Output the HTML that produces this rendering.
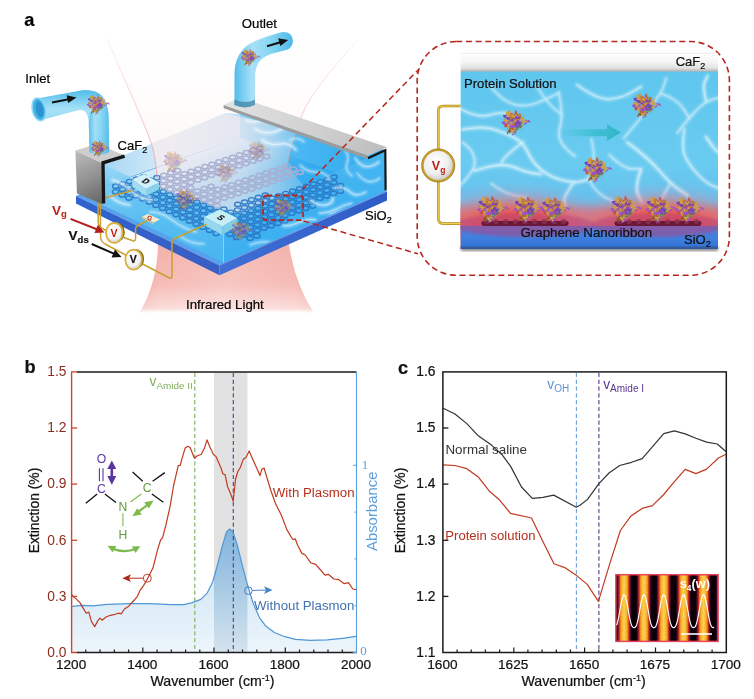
<!DOCTYPE html>
<html lang="en"><head><meta charset="utf-8"><title>Figure</title>
<style>html,body{margin:0;padding:0;background:#fff}svg{display:block}text:not([fill]),text[fill="#111"]{stroke:#111;stroke-width:0.22px}</style></head>
<body>
<svg width="754" height="699" viewBox="0 0 754 699">
<defs>

<clipPath id="bandClip"><rect x="214" y="372" width="33.4" height="281"/></clipPath>
<linearGradient id="bfill" x1="0" y1="528" x2="0" y2="652" gradientUnits="userSpaceOnUse"><stop offset="0" stop-color="#cfe5f5"/><stop offset="0.6" stop-color="#dcecf8"/><stop offset="1" stop-color="#ecf5fb"/></linearGradient>
<linearGradient id="bpeak" x1="0" y1="528" x2="0" y2="652" gradientUnits="userSpaceOnUse"><stop offset="0" stop-color="#7fb3dc"/><stop offset="0.5" stop-color="#a9cbe4"/><stop offset="1" stop-color="#d4e3ee"/></linearGradient>
<linearGradient id="stripes" x1="614.2" y1="0" x2="634.03" y2="0" gradientUnits="userSpaceOnUse" spreadMethod="repeat"><stop offset="0.00" stop-color="#080005"/><stop offset="0.12" stop-color="#0c0008"/><stop offset="0.19" stop-color="#5a0f3a"/><stop offset="0.25" stop-color="#c0281c"/><stop offset="0.31" stop-color="#ee7a18"/><stop offset="0.39" stop-color="#f6b52a"/><stop offset="0.50" stop-color="#f9d048"/><stop offset="0.61" stop-color="#f6b52a"/><stop offset="0.69" stop-color="#ee7a18"/><stop offset="0.75" stop-color="#c0281c"/><stop offset="0.81" stop-color="#5a0f3a"/><stop offset="0.88" stop-color="#0c0008"/><stop offset="1.00" stop-color="#080005"/></linearGradient>
<filter id="grain" x="0" y="0" width="100%" height="100%"><feTurbulence type="fractalNoise" baseFrequency="0.9" numOctaves="2" seed="3" result="n"/><feColorMatrix in="n" type="matrix" values="0 0 0 0 1  0 0 0 0 0.9  0 0 0 0 0.5  0 0 0 2.2 -1.1"/><feComposite in2="SourceGraphic" operator="in"/></filter>


<linearGradient id="irLow" x1="140" y1="0" x2="313" y2="0" gradientUnits="userSpaceOnUse"><stop offset="0" stop-color="#ef9a94"/><stop offset="0.1" stop-color="#f4b0aa"/><stop offset="0.5" stop-color="#f6bdb7"/><stop offset="0.9" stop-color="#f4b0aa"/><stop offset="1" stop-color="#ef9a94"/></linearGradient>
<linearGradient id="irLowFade" x1="0" y1="240" x2="0" y2="313" gradientUnits="userSpaceOnUse"><stop offset="0" stop-color="#fff" stop-opacity="0"/><stop offset="0.6" stop-color="#fff" stop-opacity="0.15"/><stop offset="0.93" stop-color="#fff" stop-opacity="0.55"/><stop offset="1" stop-color="#fff" stop-opacity="1"/></linearGradient>
<linearGradient id="irUp" x1="0" y1="38" x2="0" y2="175" gradientUnits="userSpaceOnUse"><stop offset="0" stop-color="#f7c0c0" stop-opacity="0"/><stop offset="0.25" stop-color="#f7c0c0" stop-opacity="0.03"/><stop offset="0.6" stop-color="#f7c0c0" stop-opacity="0.07"/><stop offset="1" stop-color="#f5b5b5" stop-opacity="0.16"/></linearGradient>
<linearGradient id="slabL" x1="76" y1="0" x2="220" y2="0" gradientUnits="userSpaceOnUse"><stop offset="0" stop-color="#2f62cc"/><stop offset="1" stop-color="#3a5ec4"/></linearGradient>
<linearGradient id="slabR" x1="220" y1="0" x2="387" y2="0" gradientUnits="userSpaceOnUse"><stop offset="0" stop-color="#4070d6"/><stop offset="1" stop-color="#2c5cc4"/></linearGradient>
<linearGradient id="faceL" x1="0" y1="0" x2="0" y2="1"><stop offset="0" stop-color="#9adaf8"/><stop offset="0.3" stop-color="#5cc0f2"/><stop offset="1" stop-color="#44b4f0"/></linearGradient>
<linearGradient id="faceR" x1="0" y1="0" x2="0" y2="1"><stop offset="0" stop-color="#4cbaf2"/><stop offset="1" stop-color="#36acf0"/></linearGradient>
<linearGradient id="topF" x1="100" y1="0" x2="386" y2="0" gradientUnits="userSpaceOnUse"><stop offset="0" stop-color="#86cef4"/><stop offset="0.45" stop-color="#54bbf1"/><stop offset="0.75" stop-color="#32abef"/><stop offset="1" stop-color="#2ca4ec"/></linearGradient>
<linearGradient id="edgeG" x1="0" y1="38" x2="0" y2="182" gradientUnits="userSpaceOnUse"><stop offset="0" stop-color="#eea0a0" stop-opacity="0.12"/><stop offset="0.45" stop-color="#eea0a0" stop-opacity="0.4"/><stop offset="1" stop-color="#eea0a0" stop-opacity="0.8"/></linearGradient>
<linearGradient id="tint" x1="140" y1="0" x2="300" y2="0" gradientUnits="userSpaceOnUse"><stop offset="0" stop-color="#fdecee" stop-opacity="0.6"/><stop offset="0.6" stop-color="#fdecee" stop-opacity="0.62"/><stop offset="0.85" stop-color="#fdecee" stop-opacity="0.42"/><stop offset="1" stop-color="#fdecee" stop-opacity="0.22"/></linearGradient>
<linearGradient id="wallBL" x1="101" y1="0" x2="240" y2="0" gradientUnits="userSpaceOnUse"><stop offset="0" stop-color="#a4d6f4"/><stop offset="0.25" stop-color="#bfe1f6"/><stop offset="0.5" stop-color="#d9edf9"/><stop offset="1" stop-color="#b9def5"/></linearGradient>
<linearGradient id="wallBR" x1="240" y1="0" x2="385" y2="0" gradientUnits="userSpaceOnUse"><stop offset="0" stop-color="#8fd3f5"/><stop offset="0.35" stop-color="#4cb9f2"/><stop offset="1" stop-color="#2ca7ee"/></linearGradient>
<linearGradient id="topPale" x1="160" y1="163" x2="176" y2="207" gradientUnits="userSpaceOnUse"><stop offset="0" stop-color="#e6f4fb" stop-opacity="0.92"/><stop offset="0.45" stop-color="#d2ebf8" stop-opacity="0.7"/><stop offset="1" stop-color="#c6e6f7" stop-opacity="0"/></linearGradient>
<linearGradient id="topPaleMask" x1="150" y1="0" x2="330" y2="0" gradientUnits="userSpaceOnUse"><stop offset="0" stop-color="#fff"/><stop offset="0.55" stop-color="#ccc"/><stop offset="1" stop-color="#000"/></linearGradient>
<mask id="paleM" maskUnits="userSpaceOnUse" x="60" y="80" width="340" height="200"><rect x="60" y="80" width="340" height="200" fill="url(#topPaleMask)"/></mask>
<linearGradient id="blockL" x1="76" y1="150" x2="102" y2="204" gradientUnits="userSpaceOnUse"><stop offset="0" stop-color="#bdbdbd"/><stop offset="0.5" stop-color="#949494"/><stop offset="1" stop-color="#646464"/></linearGradient>
<linearGradient id="barTop" x1="225" y1="105" x2="385" y2="150" gradientUnits="userSpaceOnUse"><stop offset="0" stop-color="#e2e2e2"/><stop offset="0.6" stop-color="#cfcfcf"/><stop offset="1" stop-color="#bdbdbd"/></linearGradient>
<linearGradient id="pipeV" x1="0" y1="0" x2="1" y2="0"><stop offset="0" stop-color="#52bdea"/><stop offset="0.3" stop-color="#a8e1f7"/><stop offset="0.6" stop-color="#88d6f3"/><stop offset="1" stop-color="#4fb9e8"/></linearGradient>
<linearGradient id="pipeH" x1="0" y1="0" x2="0" y2="1"><stop offset="0" stop-color="#52bdea"/><stop offset="0.3" stop-color="#a8e1f7"/><stop offset="0.6" stop-color="#88d6f3"/><stop offset="1" stop-color="#4fb9e8"/></linearGradient>
<radialGradient id="meter" cx="0.45" cy="0.4" r="0.6"><stop offset="0" stop-color="#ffffff"/><stop offset="0.7" stop-color="#f2f2f2"/><stop offset="1" stop-color="#cfcfcf"/></radialGradient>
<pattern id="lat" width="7" height="6" patternUnits="userSpaceOnUse" patternTransform="matrix(0.88 0.42 0.95 -0.33 0 0)">
<circle cx="0" cy="0" r="2.4" fill="none" stroke="#2c66ae" stroke-width="1.5"/><circle cx="7" cy="0" r="2.4" fill="none" stroke="#2c66ae" stroke-width="1.5"/><circle cx="0" cy="6" r="2.4" fill="none" stroke="#2c66ae" stroke-width="1.5"/><circle cx="7" cy="6" r="2.4" fill="none" stroke="#2c66ae" stroke-width="1.5"/><circle cx="3.5" cy="3" r="2.4" fill="none" stroke="#2c66ae" stroke-width="1.5"/>
</pattern>
<pattern id="latP" width="7" height="6" patternUnits="userSpaceOnUse" patternTransform="matrix(0.88 0.42 0.95 -0.33 0 0)">
<circle cx="0" cy="0" r="2.4" fill="none" stroke="#8e8aa8" stroke-width="1.5"/><circle cx="7" cy="0" r="2.4" fill="none" stroke="#8e8aa8" stroke-width="1.5"/><circle cx="0" cy="6" r="2.4" fill="none" stroke="#8e8aa8" stroke-width="1.5"/><circle cx="7" cy="6" r="2.4" fill="none" stroke="#8e8aa8" stroke-width="1.5"/><circle cx="3.5" cy="3" r="2.4" fill="none" stroke="#8e8aa8" stroke-width="1.5"/>
</pattern>
<clipPath id="boxClip"><polygon points="101,163 125.5,153.7 225.2,113.3 386,149 386,190 224,262 102,204.5"/></clipPath>
<clipPath id="beamClip"><path d="M107 38 C120 70 136 105 146.6 130.8 S155 165 158 182 L166 191 L252 219 L304 186 L287 166 C290 150 298 121 306.5 105.5 S335 65 358 40 Z"/></clipPath>
<filter id="b1" x="-20%" y="-20%" width="140%" height="140%"><feGaussianBlur stdDeviation="0.7"/></filter>
<filter id="b2" x="-20%" y="-20%" width="140%" height="140%"><feGaussianBlur stdDeviation="1.6"/></filter>
<filter id="b4" x="-30%" y="-30%" width="160%" height="160%"><feGaussianBlur stdDeviation="4"/></filter>


<linearGradient id="caf" x1="0" y1="52.7" x2="0" y2="72" gradientUnits="userSpaceOnUse"><stop offset="0" stop-color="#d0d0d0"/><stop offset="0.06" stop-color="#ffffff"/><stop offset="0.45" stop-color="#f6f6f6"/><stop offset="0.8" stop-color="#e2e2e2"/><stop offset="0.93" stop-color="#bdbdbd"/><stop offset="1" stop-color="#8fb5c4"/></linearGradient>
<linearGradient id="water" x1="0" y1="72" x2="0" y2="226" gradientUnits="userSpaceOnUse"><stop offset="0" stop-color="#5fc6ee"/><stop offset="0.6" stop-color="#6acbf0"/><stop offset="1" stop-color="#62b8ea"/></linearGradient>
<linearGradient id="sio" x1="0" y1="226" x2="0" y2="249" gradientUnits="userSpaceOnUse"><stop offset="0" stop-color="#5a78d4"/><stop offset="0.5" stop-color="#3f80de"/><stop offset="1" stop-color="#2f70d6"/></linearGradient>
<radialGradient id="glow" cx="0.5" cy="0.5" r="0.5"><stop offset="0" stop-color="#f04a40" stop-opacity="1"/><stop offset="0.3" stop-color="#f0544a" stop-opacity="0.95"/><stop offset="0.48" stop-color="#f0645c" stop-opacity="0.78"/><stop offset="0.64" stop-color="#ee7478" stop-opacity="0.5"/><stop offset="0.82" stop-color="#e888a0" stop-opacity="0.16"/><stop offset="1" stop-color="#e090b8" stop-opacity="0"/></radialGradient>
<linearGradient id="arrowT" x1="560" y1="0" x2="621" y2="0" gradientUnits="userSpaceOnUse"><stop offset="0" stop-color="#38c0d0" stop-opacity="0"/><stop offset="0.5" stop-color="#36bccc" stop-opacity="0.7"/><stop offset="1" stop-color="#30b6c6" stop-opacity="1"/></linearGradient>
<radialGradient id="vg" cx="0.42" cy="0.38" r="0.65"><stop offset="0" stop-color="#ffffff"/><stop offset="0.6" stop-color="#efefef"/><stop offset="1" stop-color="#c4c4c4"/></radialGradient>
<linearGradient id="goldw" x1="0" y1="0" x2="1" y2="0"><stop offset="0" stop-color="#b8901e"/><stop offset="0.5" stop-color="#f2d860"/><stop offset="1" stop-color="#b8901e"/></linearGradient>
<clipPath id="insClip"><rect x="460.4" y="52.7" width="257.6" height="196.3"/></clipPath>

<symbol id="prot" viewBox="0 0 24 24" overflow="visible">
<ellipse cx="12" cy="12.5" rx="9.5" ry="8.6" fill="#b88a5a" opacity="0.34"/>
<path d="M5.4 14.3q-0.2 0.1 0.5 -1.6q0.1 0.8 1.5 -2.1q-1.3 -2.6 1.6 1.0" fill="none" stroke="#b04a90" stroke-width="0.8" stroke-linecap="round"/>
<path d="M7.2 9.5q1.0 0.7 -1.8 -2.5q0.2 -2.8 -1.6 -1.3q-3.0 -0.2 -0.3 1.8" fill="none" stroke="#7a3fb0" stroke-width="1.2" stroke-linecap="round"/>
<path d="M12.5 17.0q1.0 -0.3 -1.2 2.6q3.2 2.2 1.1 -1.0q-1.7 -1.4 -2.2 1.4" fill="none" stroke="#d58a35" stroke-width="1.0" stroke-linecap="round"/>
<path d="M15.9 15.3q2.9 2.2 -2.6 -1.5q2.6 -0.2 2.5 -0.5q-2.7 0.8 1.4 -1.2" fill="none" stroke="#d58a35" stroke-width="0.8" stroke-linecap="round"/>
<path d="M11.6 13.5q1.7 -2.4 -1.3 -2.1q-2.8 1.9 -1.7 0.3q-0.3 -2.0 1.2 -1.9" fill="none" stroke="#7a3fb0" stroke-width="1.2" stroke-linecap="round"/>
<path d="M7.6 16.0q-3.2 2.3 2.5 0.5q3.2 -3.1 -1.6 2.6q0.7 0.5 -2.4 -1.8" fill="none" stroke="#cfa048" stroke-width="1.0" stroke-linecap="round"/>
<path d="M11.6 19.8q2.1 -0.7 -2.2 -1.5q0.9 -3.1 -0.7 0.6q-2.4 0.6 1.7 -1.9" fill="none" stroke="#b87532" stroke-width="1.0" stroke-linecap="round"/>
<path d="M13.5 15.5q2.0 -1.6 -1.6 1.2q2.8 -1.9 2.3 2.0q0.7 -0.5 -2.1 -2.4" fill="none" stroke="#cfa048" stroke-width="1.0" stroke-linecap="round"/>
<path d="M12.6 19.5q-0.5 2.6 -0.0 0.1q2.7 3.1 -1.9 -0.1q1.0 0.7 -2.2 -1.5" fill="none" stroke="#cfa048" stroke-width="0.8" stroke-linecap="round"/>
<path d="M12.0 10.3q-0.3 -2.8 -1.7 -0.7q0.5 -2.4 -0.7 2.0q3.1 1.0 1.0 0.4" fill="none" stroke="#7a3fb0" stroke-width="0.8" stroke-linecap="round"/>
<path d="M4.4 8.2q2.6 1.3 2.4 -2.5q0.9 -0.1 1.2 -0.9q3.2 -2.7 0.2 1.2" fill="none" stroke="#7a3fb0" stroke-width="1.2" stroke-linecap="round"/>
<path d="M11.7 9.5q-0.9 1.2 2.1 1.9q-0.5 1.9 1.9 0.4q0.8 -0.8 0.4 0.6" fill="none" stroke="#b87532" stroke-width="0.8" stroke-linecap="round"/>
<path d="M14.7 14.0q2.4 1.5 -0.6 1.2q0.5 -0.4 1.8 -2.2q1.6 -3.0 0.5 -0.1" fill="none" stroke="#cfa048" stroke-width="0.8" stroke-linecap="round"/>
<path d="M15.0 11.8q0.7 2.7 -1.3 -2.5q-1.3 1.1 -1.5 -1.7q2.6 1.0 -0.3 2.0" fill="none" stroke="#b04a90" stroke-width="1.0" stroke-linecap="round"/>
<path d="M8.2 14.9q-0.4 2.0 2.2 2.0q-0.7 0.5 -1.0 -1.9q-0.0 2.2 1.8 1.1" fill="none" stroke="#3f9a55" stroke-width="1.0" stroke-linecap="round"/>
<path d="M13.4 10.0q-1.4 -1.8 -0.4 0.7q-0.0 -1.2 1.8 2.5q-0.3 -2.7 -2.4 1.9" fill="none" stroke="#7a3fb0" stroke-width="0.8" stroke-linecap="round"/>
<path d="M9.9 8.5q-1.2 1.9 -2.5 -1.9q-0.3 -3.0 1.7 -1.4q-2.3 -2.9 0.7 -0.3" fill="none" stroke="#b87532" stroke-width="1.2" stroke-linecap="round"/>
<path d="M4.7 11.0q2.9 1.2 -1.6 -0.1q-2.1 -3.1 -0.1 1.1q-2.1 -1.5 -0.8 1.0" fill="none" stroke="#b87532" stroke-width="1.2" stroke-linecap="round"/>
<path d="M2.7 12.5q-0.7 1.9 2.1 -2.1q2.8 1.4 -1.9 -0.2q0.8 2.6 -0.6 0.4" fill="none" stroke="#cfa048" stroke-width="1.2" stroke-linecap="round"/>
<path d="M14.6 4.7q-1.1 3.1 -2.1 1.9q1.9 2.7 -2.0 -1.3q-0.7 -2.6 -1.0 2.5" fill="none" stroke="#7a3fb0" stroke-width="1.0" stroke-linecap="round"/>
<path d="M11.4 19.6q-1.0 -2.7 -0.3 0.3q1.7 -0.1 -2.5 1.6q-2.8 1.9 -1.7 -0.9" fill="none" stroke="#d58a35" stroke-width="0.8" stroke-linecap="round"/>
<path d="M2.9 14.0q0.1 1.1 -0.3 2.0q0.5 1.2 1.3 -0.3q0.4 2.1 0.3 -1.7" fill="none" stroke="#c8503a" stroke-width="1.2" stroke-linecap="round"/>
<path d="M15.9 7.3q1.1 2.9 1.9 0.6q-1.3 -2.3 0.2 -1.2q-0.0 -0.6 -2.0 -2.6" fill="none" stroke="#b87532" stroke-width="1.0" stroke-linecap="round"/>
<path d="M21.0 13.9q2.7 0.3 2.5 -2.0q-2.6 -2.1 2.2 -0.2q2.7 1.9 -0.5 -1.3" fill="none" stroke="#9a52c8" stroke-width="1.0" stroke-linecap="round"/>
<path d="M16.3 16.4q2.8 2.7 0.1 -2.0q-0.5 -3.0 -1.2 1.1q3.1 -3.0 -1.8 -2.5" fill="none" stroke="#8a5a2a" stroke-width="1.0" stroke-linecap="round"/>
<path d="M9.6 17.0q-0.0 -0.0 0.4 1.8q0.8 1.4 1.0 2.0q-3.1 0.9 1.7 0.6" fill="none" stroke="#3f9a55" stroke-width="1.2" stroke-linecap="round"/>
<path d="M14.1 18.9q-1.8 -1.8 0.2 0.5q-2.3 2.7 0.7 -0.8q-2.0 0.7 2.0 -1.6" fill="none" stroke="#3f9a55" stroke-width="0.8" stroke-linecap="round"/>
<path d="M14.6 10.5q-2.4 -2.6 -0.6 -0.3q2.8 0.3 1.1 -1.6q0.8 1.9 -2.1 0.4" fill="none" stroke="#cfa048" stroke-width="1.0" stroke-linecap="round"/>
<path d="M19.8 8.1q1.3 0.9 -0.8 2.6q2.1 1.9 -0.1 -2.5q1.7 0.7 2.1 -0.1" fill="none" stroke="#d58a35" stroke-width="0.8" stroke-linecap="round"/>
<path d="M13.7 16.0q-2.2 -1.4 0.9 0.4q-2.3 1.2 -2.2 -2.1q-0.7 -0.5 -0.8 -1.5" fill="none" stroke="#8a5a2a" stroke-width="1.0" stroke-linecap="round"/>
<path d="M19.8 13.1q-1.9 -0.6 -0.7 -0.7q2.7 0.7 -2.1 1.5q-1.1 -2.7 1.8 2.0" fill="none" stroke="#3a60b0" stroke-width="1.2" stroke-linecap="round"/>
<path d="M18.5 10.2q0.0 3.1 1.6 -1.3q2.6 1.6 1.4 1.6q-0.6 2.5 2.0 1.0" fill="none" stroke="#cfa048" stroke-width="1.0" stroke-linecap="round"/>
<path d="M12.6 7.2q-2.0 1.9 -1.0 -2.1q2.5 3.1 2.1 -2.3q-1.5 3.0 -1.0 -1.5" fill="none" stroke="#c8503a" stroke-width="1.0" stroke-linecap="round"/>
<path d="M5.8 9.9q0.1 -0.0 -1.5 -2.0q-0.7 0.5 -2.0 -2.0q-1.7 -0.4 0.0 1.4" fill="none" stroke="#7a3fb0" stroke-width="1.2" stroke-linecap="round"/>
<path d="M9.9 14.3q-1.4 -1.0 0.2 -0.4q0.1 2.2 -2.1 -0.3q0.9 0.3 0.9 2.4" fill="none" stroke="#cfa048" stroke-width="1.0" stroke-linecap="round"/>
<path d="M15.4 11.1q3.0 2.3 0.2 0.5q-0.5 -0.0 -1.1 -0.5q-1.2 0.2 -0.1 -1.2" fill="none" stroke="#7a3fb0" stroke-width="1.0" stroke-linecap="round"/>
<path d="M7.8 6.3q-3.1 -1.6 -2.4 -1.8q1.6 -0.7 2.1 1.3q-2.9 3.1 2.3 -2.2" fill="none" stroke="#d58a35" stroke-width="0.8" stroke-linecap="round"/>
<path d="M6.2 15.0q-1.6 0.1 2.3 1.2q-0.2 3.1 1.6 0.5q-2.5 0.8 -0.2 -1.5" fill="none" stroke="#b04a90" stroke-width="0.8" stroke-linecap="round"/>
<path d="M9.7 15.1q-0.4 1.1 -0.2 -1.2q0.5 -0.5 1.4 0.2q3.2 2.9 1.2 -1.4" fill="none" stroke="#b87532" stroke-width="0.8" stroke-linecap="round"/>
<path d="M6.8 12.4q0.8 -0.9 -1.2 1.0q0.4 0.6 0.7 1.3q-2.0 -1.6 2.5 2.2" fill="none" stroke="#9a52c8" stroke-width="1.2" stroke-linecap="round"/>
<path d="M14.2 13.0q-1.5 -3.0 -2.4 -1.4q-1.4 1.6 2.1 -1.8q-1.7 3.1 -0.1 -0.8" fill="none" stroke="#cfa048" stroke-width="1.0" stroke-linecap="round"/>
<path d="M7.5 18.5q2.4 1.9 -0.3 1.7q2.2 1.7 -0.3 1.3q-0.7 -2.2 -1.8 1.7" fill="none" stroke="#8a5a2a" stroke-width="1.2" stroke-linecap="round"/>
<path d="M8.9 18.0q2.1 -2.0 0.8 0.4q-0.2 -1.1 0.2 -0.4q0.4 2.0 -0.2 1.7" fill="none" stroke="#c8503a" stroke-width="0.8" stroke-linecap="round"/>
<path d="M15.8 14.3q0.7 1.2 -0.0 1.4q-1.1 2.4 -1.5 0.8q-1.1 2.6 -0.9 -0.3" fill="none" stroke="#3f9a55" stroke-width="1.2" stroke-linecap="round"/>
<path d="M19.9 8.5q-0.4 1.9 -1.0 -0.9q-0.6 2.8 2.1 -1.3q-0.9 -0.9 -0.7 -0.5" fill="none" stroke="#cfa048" stroke-width="1.0" stroke-linecap="round"/>
<path d="M14.3 5.6q1.9 0.3 1.7 0.3q-2.1 1.7 2.0 -1.1q-3.1 0.1 0.2 0.4" fill="none" stroke="#b87532" stroke-width="0.8" stroke-linecap="round"/>
<path d="M7.1 6.4q0.5 -1.2 0.2 -0.9q-1.4 -2.5 -1.0 -2.5q1.0 -2.6 1.6 -0.4" fill="none" stroke="#d58a35" stroke-width="1.2" stroke-linecap="round"/>
<path d="M13.5 19.7q-1.0 -0.3 -0.8 1.6q-1.1 -2.3 -0.1 1.6q-2.7 0.8 -2.4 1.3" fill="none" stroke="#9a52c8" stroke-width="1.2" stroke-linecap="round"/>
<path d="M11.7 12.9q2.1 2.5 2.4 0.7q0.2 1.3 1.6 -0.4q-0.5 -2.3 1.3 2.6" fill="none" stroke="#7a3fb0" stroke-width="1.0" stroke-linecap="round"/>
<path d="M9.9 8.2q-0.5 -1.3 2.4 -2.3q-1.2 -2.5 0.8 1.4q-2.1 -2.8 -0.2 0.4" fill="none" stroke="#7a3fb0" stroke-width="0.8" stroke-linecap="round"/>
<path d="M10.4 15.9q-1.8 -1.7 1.1 0.5q-1.8 -2.0 -1.1 -1.7q1.6 -1.2 0.3 1.6" fill="none" stroke="#b87532" stroke-width="1.0" stroke-linecap="round"/>
<path d="M15.9 7.9q2.7 -1.0 0.2 2.4q-0.1 -1.8 -2.3 2.3q1.9 -0.7 0.1 0.1" fill="none" stroke="#7a3fb0" stroke-width="1.0" stroke-linecap="round"/>
<path d="M12.5 10.5q2.5 2.4 2.1 -0.3q-1.6 -0.5 1.9 -0.4q1.7 -2.3 2.1 1.6" fill="none" stroke="#cfa048" stroke-width="0.8" stroke-linecap="round"/>
<path d="M6.0 6.2q0.1 -2.9 0.4 -1.7q-1.9 2.7 -1.8 -1.9q-0.9 0.7 0.1 2.0" fill="none" stroke="#cfa048" stroke-width="1.2" stroke-linecap="round"/>
<path d="M3.1 14.1q0.3 0.0 -2.5 -1.6q-2.0 1.2 1.5 -0.3q-3.0 -0.6 -0.0 2.3" fill="none" stroke="#9a52c8" stroke-width="1.0" stroke-linecap="round"/>
<path d="M9.6 17.4q-1.2 -0.2 1.1 -0.7q1.2 -2.5 -0.5 -0.2q3.0 2.1 0.8 -2.5" fill="none" stroke="#9a52c8" stroke-width="1.0" stroke-linecap="round"/>
<path d="M10.5 6.9q0.4 -0.3 -2.5 2.6q1.9 -1.9 0.6 -1.1q-0.8 0.3 -1.0 -0.8" fill="none" stroke="#b87532" stroke-width="1.0" stroke-linecap="round"/>
<path d="M9.4 11.7q-1.9 1.5 -0.9 2.3q0.4 1.4 -0.9 1.7q-2.6 -2.3 -2.1 0.9" fill="none" stroke="#cfa048" stroke-width="1.2" stroke-linecap="round"/>
<path d="M13.8 15.8q2.2 0.6 -2.1 -1.4q-2.2 -2.4 -0.5 -2.2q2.7 -0.5 0.1 0.8" fill="none" stroke="#d58a35" stroke-width="0.8" stroke-linecap="round"/>
<path d="M14.5 7.8q2.7 0.8 1.2 0.6q-1.2 1.8 -1.3 2.5q0.2 -1.5 -1.6 -1.0" fill="none" stroke="#b87532" stroke-width="1.0" stroke-linecap="round"/>
<path d="M16.5 15.7q-1.1 -1.3 -2.1 1.1q-1.6 0.2 -1.0 -1.4q0.7 0.1 0.4 -1.6" fill="none" stroke="#9a52c8" stroke-width="1.2" stroke-linecap="round"/>
<path d="M19.8 12.4q0.4 -3.0 0.8 1.4q-2.3 -0.1 -0.4 -0.9q-2.6 2.4 -1.2 2.0" fill="none" stroke="#cfa048" stroke-width="1.0" stroke-linecap="round"/>
<path d="M15.4 12.0q0.3 0.4 0.3 -1.2q2.6 3.1 1.7 0.5q-2.4 2.1 -1.1 2.1" fill="none" stroke="#9a52c8" stroke-width="0.8" stroke-linecap="round"/>
<path d="M12.3 7.5q-2.0 0.3 -2.2 -2.4q-2.0 3.1 2.3 0.8q-1.2 1.1 1.2 -0.6" fill="none" stroke="#cfa048" stroke-width="1.2" stroke-linecap="round"/>
<path d="M6.8 6.9q-1.9 -0.2 -1.9 -0.6q0.4 -2.1 0.1 -1.2q0.4 -1.1 0.7 -2.4" fill="none" stroke="#cfa048" stroke-width="1.2" stroke-linecap="round"/>
<path d="M13.4 7.3q0.6 -0.2 -0.5 0.6q1.2 1.7 1.3 -0.1q3.2 2.2 1.8 -0.5" fill="none" stroke="#7a3fb0" stroke-width="1.0" stroke-linecap="round"/>
<path d="M14.3 14.4q-1.1 0.1 -0.4 -2.5q2.6 -1.3 0.6 -0.3q-0.8 -1.1 1.5 2.0" fill="none" stroke="#9a52c8" stroke-width="0.8" stroke-linecap="round"/>
<path d="M12.3 20.2q0.0 -0.7 -2.3 1.0q0.2 -1.7 -1.0 -0.5q-1.7 -2.8 2.1 2.4" fill="none" stroke="#cfa048" stroke-width="1.2" stroke-linecap="round"/>
<path d="M7.3 17.0q2.0 -1.8 1.3 0.3q2.6 -2.6 1.5 -2.0q0.2 2.9 -2.6 -1.3" fill="none" stroke="#9a52c8" stroke-width="1.0" stroke-linecap="round"/>
<path d="M15.8 13.0q2.5 2.0 -0.5 -0.7q0.5 -2.9 -2.4 2.1q-1.2 -0.0 2.3 2.5" fill="none" stroke="#7a3fb0" stroke-width="1.0" stroke-linecap="round"/>
</symbol>
</defs>
<rect width="754" height="699" fill="#ffffff"/>
<g id="panela" font-family="Liberation Sans, Arial, sans-serif">
<path d="M107 38 C120 70 136 105 146.6 130.8 S155 165 158 182 L287 166 C290 150 298 121 306.5 105.5 S335 65 358 40 Z" fill="url(#irUp)"/>
<path d="M158 230 Q160 280 139 313 L314 313 Q292 280 287 230 Z" fill="url(#irLow)"/>
<path d="M130 230 H320 V314 H130 Z" fill="url(#irLowFade)"/>
<polygon points="76,196 240,121 387,191.5 219.5,265.6" fill="#56a2ec"/>
<polygon points="76,196 219.5,265.6 219.5,275.3 76,203.6" fill="url(#slabL)"/>
<polygon points="219.5,265.6 387,191.5 387,200.5 219.5,275.3" fill="url(#slabR)"/>
<polygon points="82,195 240,137.7 385,190 224,262" fill="url(#topF)"/>
<polygon points="240,112 385,150 385,190 240,137.7" fill="url(#wallBR)"/>
<polygon points="82,195 240,137.7 385,190 224,262" fill="url(#topPale)" mask="url(#paleM)"/>
<polygon points="101,163.5 125.5,154.5 225.2,113.3 240,114 240,137.7 153,168.5 101,187.5" fill="url(#wallBL)"/>
<g clip-path="url(#beamClip)"><polygon points="101,163 125.5,153.7 225.2,113.3 386,149 386,190 224,262 82,195" fill="url(#tint)"/></g>
<polygon points="101,163 223.4,221 223.4,262.5 102,204.5" fill="url(#faceL)" opacity="0.82"/>
<polygon points="223.4,221 385,150 385.6,190.5 223.4,262.5" fill="url(#faceR)" opacity="0.8"/>
<line x1="223.4" y1="221" x2="223.4" y2="262.5" stroke="#bfe6fa" stroke-width="0.8" opacity="0.8"/>
<g fill="none" stroke="#2874c4" stroke-width="1.4" opacity="0.88">
<ellipse cx="115.7" cy="186.2" rx="3.1" ry="2.15"/>
<ellipse cx="122.6" cy="183.9" rx="3.1" ry="2.15"/>
<ellipse cx="129.5" cy="181.5" rx="3.1" ry="2.15"/>
<ellipse cx="136.4" cy="179.2" rx="3.1" ry="2.15"/>
<ellipse cx="143.3" cy="176.8" rx="3.1" ry="2.15"/>
<ellipse cx="115.5" cy="191.8" rx="3.1" ry="2.15"/>
<ellipse cx="122.4" cy="189.4" rx="3.1" ry="2.15"/>
<ellipse cx="129.3" cy="187.1" rx="3.1" ry="2.15"/>
<ellipse cx="136.2" cy="184.7" rx="3.1" ry="2.15"/>
<ellipse cx="143.1" cy="182.3" rx="3.1" ry="2.15"/>
<ellipse cx="150.0" cy="180.0" rx="3.1" ry="2.15"/>
<ellipse cx="156.9" cy="177.7" rx="3.1" ry="2.15"/>
<ellipse cx="122.2" cy="194.9" rx="3.1" ry="2.15"/>
<ellipse cx="129.1" cy="192.6" rx="3.1" ry="2.15"/>
<ellipse cx="136.0" cy="190.2" rx="3.1" ry="2.15"/>
<ellipse cx="142.9" cy="187.8" rx="3.1" ry="2.15"/>
<ellipse cx="149.8" cy="185.5" rx="3.1" ry="2.15"/>
<ellipse cx="156.7" cy="183.2" rx="3.1" ry="2.15"/>
<ellipse cx="128.9" cy="198.1" rx="3.1" ry="2.15"/>
<ellipse cx="135.8" cy="195.7" rx="3.1" ry="2.15"/>
<ellipse cx="142.7" cy="193.4" rx="3.1" ry="2.15"/>
<ellipse cx="149.6" cy="191.0" rx="3.1" ry="2.15"/>
<ellipse cx="156.5" cy="188.7" rx="3.1" ry="2.15"/>
<ellipse cx="142.5" cy="198.8" rx="3.1" ry="2.15"/>
<ellipse cx="149.4" cy="196.5" rx="3.1" ry="2.15"/>
<ellipse cx="156.3" cy="194.1" rx="3.1" ry="2.15"/>
<ellipse cx="163.2" cy="191.8" rx="3.1" ry="2.15"/>
<ellipse cx="149.2" cy="202.0" rx="3.1" ry="2.15"/>
<ellipse cx="156.1" cy="199.7" rx="3.1" ry="2.15"/>
<ellipse cx="163.0" cy="197.3" rx="3.1" ry="2.15"/>
<ellipse cx="169.9" cy="194.9" rx="3.1" ry="2.15"/>
<ellipse cx="155.9" cy="205.2" rx="3.1" ry="2.15"/>
<ellipse cx="162.8" cy="202.8" rx="3.1" ry="2.15"/>
<ellipse cx="169.7" cy="200.4" rx="3.1" ry="2.15"/>
<ellipse cx="176.6" cy="198.1" rx="3.1" ry="2.15"/>
<ellipse cx="183.5" cy="195.8" rx="3.1" ry="2.15"/>
<ellipse cx="162.6" cy="208.3" rx="3.1" ry="2.15"/>
<ellipse cx="169.5" cy="206.0" rx="3.1" ry="2.15"/>
<ellipse cx="176.4" cy="203.6" rx="3.1" ry="2.15"/>
<ellipse cx="183.3" cy="201.2" rx="3.1" ry="2.15"/>
<ellipse cx="190.2" cy="198.9" rx="3.1" ry="2.15"/>
<ellipse cx="169.3" cy="211.5" rx="3.1" ry="2.15"/>
<ellipse cx="176.2" cy="209.1" rx="3.1" ry="2.15"/>
<ellipse cx="183.1" cy="206.8" rx="3.1" ry="2.15"/>
<ellipse cx="190.0" cy="204.4" rx="3.1" ry="2.15"/>
<ellipse cx="196.9" cy="202.1" rx="3.1" ry="2.15"/>
<ellipse cx="176.0" cy="214.6" rx="3.1" ry="2.15"/>
<ellipse cx="182.9" cy="212.2" rx="3.1" ry="2.15"/>
<ellipse cx="189.8" cy="209.9" rx="3.1" ry="2.15"/>
<ellipse cx="196.7" cy="207.5" rx="3.1" ry="2.15"/>
<ellipse cx="203.6" cy="205.2" rx="3.1" ry="2.15"/>
<ellipse cx="182.7" cy="217.8" rx="3.1" ry="2.15"/>
<ellipse cx="189.6" cy="215.4" rx="3.1" ry="2.15"/>
<ellipse cx="196.5" cy="213.0" rx="3.1" ry="2.15"/>
<ellipse cx="203.4" cy="210.7" rx="3.1" ry="2.15"/>
<ellipse cx="210.3" cy="208.3" rx="3.1" ry="2.15"/>
<ellipse cx="189.4" cy="220.9" rx="3.1" ry="2.15"/>
<ellipse cx="196.3" cy="218.6" rx="3.1" ry="2.15"/>
<ellipse cx="203.2" cy="216.2" rx="3.1" ry="2.15"/>
<ellipse cx="210.1" cy="213.8" rx="3.1" ry="2.15"/>
<ellipse cx="217.0" cy="211.5" rx="3.1" ry="2.15"/>
<ellipse cx="223.9" cy="209.2" rx="3.1" ry="2.15"/>
<ellipse cx="237.7" cy="204.4" rx="3.1" ry="2.15"/>
<ellipse cx="244.6" cy="202.1" rx="3.1" ry="2.15"/>
<ellipse cx="251.5" cy="199.8" rx="3.1" ry="2.15"/>
<ellipse cx="258.4" cy="197.4" rx="3.1" ry="2.15"/>
<ellipse cx="265.3" cy="195.1" rx="3.1" ry="2.15"/>
<ellipse cx="196.1" cy="224.1" rx="3.1" ry="2.15"/>
<ellipse cx="203.0" cy="221.7" rx="3.1" ry="2.15"/>
<ellipse cx="209.9" cy="219.3" rx="3.1" ry="2.15"/>
<ellipse cx="216.8" cy="217.0" rx="3.1" ry="2.15"/>
<ellipse cx="223.7" cy="214.7" rx="3.1" ry="2.15"/>
<ellipse cx="230.6" cy="212.3" rx="3.1" ry="2.15"/>
<ellipse cx="237.5" cy="210.0" rx="3.1" ry="2.15"/>
<ellipse cx="244.4" cy="207.6" rx="3.1" ry="2.15"/>
<ellipse cx="251.3" cy="205.2" rx="3.1" ry="2.15"/>
<ellipse cx="258.2" cy="202.9" rx="3.1" ry="2.15"/>
<ellipse cx="265.1" cy="200.6" rx="3.1" ry="2.15"/>
<ellipse cx="272.0" cy="198.2" rx="3.1" ry="2.15"/>
<ellipse cx="278.9" cy="195.8" rx="3.1" ry="2.15"/>
<ellipse cx="285.8" cy="193.5" rx="3.1" ry="2.15"/>
<ellipse cx="292.7" cy="191.2" rx="3.1" ry="2.15"/>
<ellipse cx="299.6" cy="188.8" rx="3.1" ry="2.15"/>
<ellipse cx="306.5" cy="186.4" rx="3.1" ry="2.15"/>
<ellipse cx="313.4" cy="184.1" rx="3.1" ry="2.15"/>
<ellipse cx="320.3" cy="181.8" rx="3.1" ry="2.15"/>
<ellipse cx="327.2" cy="179.4" rx="3.1" ry="2.15"/>
<ellipse cx="334.1" cy="177.1" rx="3.1" ry="2.15"/>
<ellipse cx="202.8" cy="227.2" rx="3.1" ry="2.15"/>
<ellipse cx="209.7" cy="224.9" rx="3.1" ry="2.15"/>
<ellipse cx="216.6" cy="222.5" rx="3.1" ry="2.15"/>
<ellipse cx="223.5" cy="220.2" rx="3.1" ry="2.15"/>
<ellipse cx="230.4" cy="217.8" rx="3.1" ry="2.15"/>
<ellipse cx="237.3" cy="215.5" rx="3.1" ry="2.15"/>
<ellipse cx="244.2" cy="213.1" rx="3.1" ry="2.15"/>
<ellipse cx="251.1" cy="210.8" rx="3.1" ry="2.15"/>
<ellipse cx="258.0" cy="208.4" rx="3.1" ry="2.15"/>
<ellipse cx="264.9" cy="206.1" rx="3.1" ry="2.15"/>
<ellipse cx="271.8" cy="203.7" rx="3.1" ry="2.15"/>
<ellipse cx="278.7" cy="201.4" rx="3.1" ry="2.15"/>
<ellipse cx="285.6" cy="199.0" rx="3.1" ry="2.15"/>
<ellipse cx="292.5" cy="196.7" rx="3.1" ry="2.15"/>
<ellipse cx="299.4" cy="194.3" rx="3.1" ry="2.15"/>
<ellipse cx="306.3" cy="192.0" rx="3.1" ry="2.15"/>
<ellipse cx="313.2" cy="189.6" rx="3.1" ry="2.15"/>
<ellipse cx="320.1" cy="187.2" rx="3.1" ry="2.15"/>
<ellipse cx="327.0" cy="184.9" rx="3.1" ry="2.15"/>
<ellipse cx="333.9" cy="182.6" rx="3.1" ry="2.15"/>
<ellipse cx="209.5" cy="230.3" rx="3.1" ry="2.15"/>
<ellipse cx="216.4" cy="228.0" rx="3.1" ry="2.15"/>
<ellipse cx="223.3" cy="225.6" rx="3.1" ry="2.15"/>
<ellipse cx="230.2" cy="223.3" rx="3.1" ry="2.15"/>
<ellipse cx="237.1" cy="220.9" rx="3.1" ry="2.15"/>
<ellipse cx="244.0" cy="218.6" rx="3.1" ry="2.15"/>
<ellipse cx="250.9" cy="216.2" rx="3.1" ry="2.15"/>
<ellipse cx="257.8" cy="213.9" rx="3.1" ry="2.15"/>
<ellipse cx="264.7" cy="211.5" rx="3.1" ry="2.15"/>
<ellipse cx="271.6" cy="209.2" rx="3.1" ry="2.15"/>
<ellipse cx="278.5" cy="206.8" rx="3.1" ry="2.15"/>
<ellipse cx="285.4" cy="204.5" rx="3.1" ry="2.15"/>
<ellipse cx="292.3" cy="202.1" rx="3.1" ry="2.15"/>
<ellipse cx="299.2" cy="199.8" rx="3.1" ry="2.15"/>
<ellipse cx="306.1" cy="197.4" rx="3.1" ry="2.15"/>
<ellipse cx="313.0" cy="195.1" rx="3.1" ry="2.15"/>
<ellipse cx="319.9" cy="192.8" rx="3.1" ry="2.15"/>
<ellipse cx="326.8" cy="190.4" rx="3.1" ry="2.15"/>
<ellipse cx="333.7" cy="188.0" rx="3.1" ry="2.15"/>
<ellipse cx="340.6" cy="185.7" rx="3.1" ry="2.15"/>
<ellipse cx="216.2" cy="233.5" rx="3.1" ry="2.15"/>
<ellipse cx="223.1" cy="231.2" rx="3.1" ry="2.15"/>
<ellipse cx="230.0" cy="228.8" rx="3.1" ry="2.15"/>
<ellipse cx="236.9" cy="226.4" rx="3.1" ry="2.15"/>
<ellipse cx="243.8" cy="224.1" rx="3.1" ry="2.15"/>
<ellipse cx="250.7" cy="221.8" rx="3.1" ry="2.15"/>
<ellipse cx="257.6" cy="219.4" rx="3.1" ry="2.15"/>
<ellipse cx="264.5" cy="217.0" rx="3.1" ry="2.15"/>
<ellipse cx="271.4" cy="214.7" rx="3.1" ry="2.15"/>
<ellipse cx="278.3" cy="212.3" rx="3.1" ry="2.15"/>
<ellipse cx="285.2" cy="210.0" rx="3.1" ry="2.15"/>
<ellipse cx="292.1" cy="207.7" rx="3.1" ry="2.15"/>
<ellipse cx="299.0" cy="205.3" rx="3.1" ry="2.15"/>
<ellipse cx="305.9" cy="202.9" rx="3.1" ry="2.15"/>
<ellipse cx="312.8" cy="200.6" rx="3.1" ry="2.15"/>
<ellipse cx="319.7" cy="198.2" rx="3.1" ry="2.15"/>
<ellipse cx="326.6" cy="195.9" rx="3.1" ry="2.15"/>
<ellipse cx="333.5" cy="193.5" rx="3.1" ry="2.15"/>
<ellipse cx="340.4" cy="191.2" rx="3.1" ry="2.15"/>
<ellipse cx="229.8" cy="234.3" rx="3.1" ry="2.15"/>
<ellipse cx="236.7" cy="231.9" rx="3.1" ry="2.15"/>
<ellipse cx="243.6" cy="229.6" rx="3.1" ry="2.15"/>
<ellipse cx="250.5" cy="227.2" rx="3.1" ry="2.15"/>
<ellipse cx="257.4" cy="224.9" rx="3.1" ry="2.15"/>
<ellipse cx="264.3" cy="222.6" rx="3.1" ry="2.15"/>
<ellipse cx="271.2" cy="220.2" rx="3.1" ry="2.15"/>
<ellipse cx="278.1" cy="217.8" rx="3.1" ry="2.15"/>
<ellipse cx="285.0" cy="215.5" rx="3.1" ry="2.15"/>
<ellipse cx="291.9" cy="213.2" rx="3.1" ry="2.15"/>
<ellipse cx="298.8" cy="210.8" rx="3.1" ry="2.15"/>
<ellipse cx="305.7" cy="208.4" rx="3.1" ry="2.15"/>
<ellipse cx="312.6" cy="206.1" rx="3.1" ry="2.15"/>
<ellipse cx="236.5" cy="237.5" rx="3.1" ry="2.15"/>
<ellipse cx="243.4" cy="235.1" rx="3.1" ry="2.15"/>
<ellipse cx="250.3" cy="232.8" rx="3.1" ry="2.15"/>
<ellipse cx="257.2" cy="230.4" rx="3.1" ry="2.15"/>
<ellipse cx="264.1" cy="228.1" rx="3.1" ry="2.15"/>
<ellipse cx="271.0" cy="225.7" rx="3.1" ry="2.15"/>
<ellipse cx="277.9" cy="223.3" rx="3.1" ry="2.15"/>
<ellipse cx="284.8" cy="221.0" rx="3.1" ry="2.15"/>
<ellipse cx="250.1" cy="238.2" rx="3.1" ry="2.15"/>
<ellipse cx="257.0" cy="235.9" rx="3.1" ry="2.15"/>
</g>
<g fill="none" stroke="#a9aed0" stroke-width="1.5" opacity="0.95"><ellipse cx="163.8" cy="175.3" rx="3.1" ry="2.15"/><ellipse cx="170.7" cy="172.9" rx="3.1" ry="2.15"/><ellipse cx="177.6" cy="170.6" rx="3.1" ry="2.15"/><ellipse cx="163.6" cy="180.8" rx="3.1" ry="2.15"/><ellipse cx="170.5" cy="178.5" rx="3.1" ry="2.15"/><ellipse cx="177.4" cy="176.1" rx="3.1" ry="2.15"/><ellipse cx="184.3" cy="173.8" rx="3.1" ry="2.15"/><ellipse cx="191.2" cy="171.4" rx="3.1" ry="2.15"/><ellipse cx="198.1" cy="169.1" rx="3.1" ry="2.15"/><ellipse cx="205.0" cy="166.7" rx="3.1" ry="2.15"/><ellipse cx="211.9" cy="164.3" rx="3.1" ry="2.15"/><ellipse cx="218.8" cy="162.0" rx="3.1" ry="2.15"/><ellipse cx="225.7" cy="159.7" rx="3.1" ry="2.15"/><ellipse cx="232.6" cy="157.3" rx="3.1" ry="2.15"/><ellipse cx="239.5" cy="154.9" rx="3.1" ry="2.15"/><ellipse cx="246.4" cy="152.6" rx="3.1" ry="2.15"/><ellipse cx="253.3" cy="150.2" rx="3.1" ry="2.15"/><ellipse cx="260.2" cy="147.9" rx="3.1" ry="2.15"/><ellipse cx="163.4" cy="186.3" rx="3.1" ry="2.15"/><ellipse cx="170.3" cy="184.0" rx="3.1" ry="2.15"/><ellipse cx="177.2" cy="181.6" rx="3.1" ry="2.15"/><ellipse cx="184.1" cy="179.2" rx="3.1" ry="2.15"/><ellipse cx="191.0" cy="176.9" rx="3.1" ry="2.15"/><ellipse cx="197.9" cy="174.6" rx="3.1" ry="2.15"/><ellipse cx="204.8" cy="172.2" rx="3.1" ry="2.15"/><ellipse cx="211.7" cy="169.9" rx="3.1" ry="2.15"/><ellipse cx="218.6" cy="167.5" rx="3.1" ry="2.15"/><ellipse cx="225.5" cy="165.2" rx="3.1" ry="2.15"/><ellipse cx="232.4" cy="162.8" rx="3.1" ry="2.15"/><ellipse cx="239.3" cy="160.5" rx="3.1" ry="2.15"/><ellipse cx="246.2" cy="158.1" rx="3.1" ry="2.15"/><ellipse cx="253.1" cy="155.8" rx="3.1" ry="2.15"/><ellipse cx="260.0" cy="153.4" rx="3.1" ry="2.15"/><ellipse cx="170.1" cy="189.4" rx="3.1" ry="2.15"/><ellipse cx="177.0" cy="187.1" rx="3.1" ry="2.15"/><ellipse cx="183.9" cy="184.8" rx="3.1" ry="2.15"/><ellipse cx="190.8" cy="182.4" rx="3.1" ry="2.15"/><ellipse cx="197.7" cy="180.0" rx="3.1" ry="2.15"/><ellipse cx="204.6" cy="177.7" rx="3.1" ry="2.15"/><ellipse cx="211.5" cy="175.3" rx="3.1" ry="2.15"/><ellipse cx="218.4" cy="173.0" rx="3.1" ry="2.15"/><ellipse cx="225.3" cy="170.6" rx="3.1" ry="2.15"/><ellipse cx="232.2" cy="168.3" rx="3.1" ry="2.15"/><ellipse cx="239.1" cy="165.9" rx="3.1" ry="2.15"/><ellipse cx="246.0" cy="163.6" rx="3.1" ry="2.15"/><ellipse cx="252.9" cy="161.2" rx="3.1" ry="2.15"/><ellipse cx="259.8" cy="158.9" rx="3.1" ry="2.15"/><ellipse cx="266.7" cy="156.5" rx="3.1" ry="2.15"/><ellipse cx="176.8" cy="192.6" rx="3.1" ry="2.15"/><ellipse cx="183.7" cy="190.2" rx="3.1" ry="2.15"/><ellipse cx="190.6" cy="187.9" rx="3.1" ry="2.15"/><ellipse cx="190.4" cy="193.4" rx="3.1" ry="2.15"/><ellipse cx="197.3" cy="191.1" rx="3.1" ry="2.15"/><ellipse cx="204.2" cy="188.7" rx="3.1" ry="2.15"/><ellipse cx="211.1" cy="186.3" rx="3.1" ry="2.15"/><ellipse cx="197.1" cy="196.6" rx="3.1" ry="2.15"/><ellipse cx="204.0" cy="194.2" rx="3.1" ry="2.15"/><ellipse cx="210.9" cy="191.8" rx="3.1" ry="2.15"/><ellipse cx="217.8" cy="189.5" rx="3.1" ry="2.15"/><ellipse cx="224.7" cy="187.2" rx="3.1" ry="2.15"/><ellipse cx="231.6" cy="184.8" rx="3.1" ry="2.15"/><ellipse cx="238.5" cy="182.5" rx="3.1" ry="2.15"/><ellipse cx="245.4" cy="180.1" rx="3.1" ry="2.15"/><ellipse cx="252.3" cy="177.8" rx="3.1" ry="2.15"/><ellipse cx="259.2" cy="175.4" rx="3.1" ry="2.15"/><ellipse cx="266.1" cy="173.1" rx="3.1" ry="2.15"/><ellipse cx="273.0" cy="170.7" rx="3.1" ry="2.15"/><ellipse cx="279.9" cy="168.3" rx="3.1" ry="2.15"/><ellipse cx="286.8" cy="166.0" rx="3.1" ry="2.15"/><ellipse cx="203.8" cy="199.7" rx="3.1" ry="2.15"/><ellipse cx="210.7" cy="197.4" rx="3.1" ry="2.15"/><ellipse cx="217.6" cy="195.0" rx="3.1" ry="2.15"/><ellipse cx="224.5" cy="192.7" rx="3.1" ry="2.15"/><ellipse cx="231.4" cy="190.3" rx="3.1" ry="2.15"/><ellipse cx="238.3" cy="188.0" rx="3.1" ry="2.15"/><ellipse cx="245.2" cy="185.6" rx="3.1" ry="2.15"/><ellipse cx="252.1" cy="183.2" rx="3.1" ry="2.15"/><ellipse cx="259.0" cy="180.9" rx="3.1" ry="2.15"/><ellipse cx="265.9" cy="178.6" rx="3.1" ry="2.15"/><ellipse cx="272.8" cy="176.2" rx="3.1" ry="2.15"/><ellipse cx="279.7" cy="173.9" rx="3.1" ry="2.15"/><ellipse cx="286.6" cy="171.5" rx="3.1" ry="2.15"/><ellipse cx="293.5" cy="169.2" rx="3.1" ry="2.15"/><ellipse cx="210.5" cy="202.8" rx="3.1" ry="2.15"/><ellipse cx="217.4" cy="200.5" rx="3.1" ry="2.15"/><ellipse cx="224.3" cy="198.1" rx="3.1" ry="2.15"/><ellipse cx="231.2" cy="195.8" rx="3.1" ry="2.15"/><ellipse cx="238.1" cy="193.4" rx="3.1" ry="2.15"/><ellipse cx="245.0" cy="191.1" rx="3.1" ry="2.15"/><ellipse cx="251.9" cy="188.8" rx="3.1" ry="2.15"/><ellipse cx="258.8" cy="186.4" rx="3.1" ry="2.15"/><ellipse cx="265.7" cy="184.0" rx="3.1" ry="2.15"/><ellipse cx="272.6" cy="181.7" rx="3.1" ry="2.15"/><ellipse cx="279.5" cy="179.3" rx="3.1" ry="2.15"/><ellipse cx="286.4" cy="177.0" rx="3.1" ry="2.15"/><ellipse cx="293.3" cy="174.6" rx="3.1" ry="2.15"/><ellipse cx="300.2" cy="172.3" rx="3.1" ry="2.15"/><ellipse cx="217.2" cy="206.0" rx="3.1" ry="2.15"/></g>
<path d="M107 38 C120 70 136 105 146.6 130.8 S155 165 158 182" fill="none" stroke="url(#edgeG)" stroke-width="1.1"/>
<path d="M358 40 C335 65 315 90 306.5 105.5 S290 150 287 166" fill="none" stroke="url(#edgeG)" stroke-width="1.1"/>
<g clip-path="url(#boxClip)">
<g fill="none" stroke="#fff" stroke-linecap="round" filter="url(#b2)" opacity="0.6">
<path d="M255 129 Q264 134 272 132.5 T286 126" stroke-width="3.0"/>
<path d="M300 131 Q310 127 321 132.7 T332 143 Q338 142 343 138.5" stroke-width="2.2"/>
<path d="M355 158 Q360 166 366 166.7 T379 162" stroke-width="2.6"/>
<path d="M357 173 Q362 180 368 181.5 T380 178" stroke-width="2.0"/>
<path d="M310.6 200.6 Q318 206 325.5 205 T333 198" stroke-width="3.0"/>
<path d="M319 213.4 Q328 213 336 209 T352 203" stroke-width="2.2"/>
<path d="M283 226 Q292 226 300 222 T316 220" stroke-width="2.6"/>
<path d="M345 150 Q350 156 347 163 T352 176" stroke-width="2.0"/>
<path d="M262 140 Q270 146 280 144 T296 150" stroke-width="3.0"/>
<path d="M300 165 Q306 172 316 172 T330 180" stroke-width="2.2"/>
<path d="M335 188 Q344 186 350 192 T366 192" stroke-width="2.6"/>
<path d="M250 245 Q262 240 272 243 T296 232" stroke-width="2.0"/>
<path d="M112 180 Q122 182 130 190 T152 200" stroke-width="3.0"/>
<path d="M150 212 Q162 212 172 220 T196 232" stroke-width="2.2"/>
<path d="M110 196 Q118 204 130 205" stroke-width="2.6"/>
<path d="M180 236 Q190 244 204 244" stroke-width="2.0"/>
<path d="M268 250 Q280 243 290 244" stroke-width="3.0"/>
<path d="M330 215 Q340 210 348 212 T366 204" stroke-width="2.2"/>
<path d="M246 120 Q254 124 262 120" stroke-width="2.6"/>
<path d="M290 140 Q298 136 304 142" stroke-width="2.0"/>
</g>
<g fill="none" stroke="#fff" stroke-linecap="round" filter="url(#b1)" opacity="0.45">
<path d="M255 129 Q264 134 272 132.5 T286 126" stroke-width="1.0"/>
<path d="M300 131 Q310 127 321 132.7 T332 143 Q338 142 343 138.5" stroke-width="0.8"/>
<path d="M355 158 Q360 166 366 166.7 T379 162" stroke-width="0.9"/>
<path d="M357 173 Q362 180 368 181.5 T380 178" stroke-width="0.7"/>
<path d="M310.6 200.6 Q318 206 325.5 205 T333 198" stroke-width="1.0"/>
<path d="M319 213.4 Q328 213 336 209 T352 203" stroke-width="0.8"/>
<path d="M283 226 Q292 226 300 222 T316 220" stroke-width="0.9"/>
<path d="M345 150 Q350 156 347 163 T352 176" stroke-width="0.7"/>
<path d="M262 140 Q270 146 280 144 T296 150" stroke-width="1.0"/>
<path d="M300 165 Q306 172 316 172 T330 180" stroke-width="0.8"/>
<path d="M335 188 Q344 186 350 192 T366 192" stroke-width="0.9"/>
<path d="M250 245 Q262 240 272 243 T296 232" stroke-width="0.7"/>
<path d="M112 180 Q122 182 130 190 T152 200" stroke-width="1.0"/>
<path d="M150 212 Q162 212 172 220 T196 232" stroke-width="0.8"/>
<path d="M110 196 Q118 204 130 205" stroke-width="0.9"/>
<path d="M180 236 Q190 244 204 244" stroke-width="0.7"/>
<path d="M268 250 Q280 243 290 244" stroke-width="1.0"/>
<path d="M330 215 Q340 210 348 212 T366 204" stroke-width="0.8"/>
<path d="M246 120 Q254 124 262 120" stroke-width="0.9"/>
<path d="M290 140 Q298 136 304 142" stroke-width="0.7"/>
</g></g>
<polygon points="132.2,179.8 144,174 159,182.6 146,189" fill="#d2f0f8"/>
<polygon points="132.2,179.8 146,189 146,196 132.2,186.5" fill="#a2dcf0"/><polygon points="146,189 159,182.6 159,189.5 146,196" fill="#8ad2ec"/>
<text transform="translate(145.5,181.8) rotate(28) skewX(-25)" font-size="8" font-weight="bold" text-anchor="middle" dominant-baseline="middle" fill="#111">D</text>
<polygon points="204,217 220,209.4 237.3,218 222.3,226.6" fill="#c6eef7"/>
<polygon points="204,217 222.3,226.6 222.3,235 204,225" fill="#96d8ee"/><polygon points="222.3,226.6 237.3,218 237.3,226 222.3,235" fill="#80cde9"/>
<text transform="translate(220.5,218) rotate(28) skewX(-25)" font-size="8" font-weight="bold" text-anchor="middle" dominant-baseline="middle" fill="#111">S</text>
<polygon points="142,216.5 148,214 160,219.5 154,222.5" fill="#f2ecd0"/><polygon points="142,216.5 154,222.5 154,224.5 142,218.5" fill="#cfc49a"/>
<text transform="translate(149.5,218.6) rotate(25)" font-size="6.5" font-weight="bold" text-anchor="middle" dominant-baseline="middle" fill="#c0201a">G</text>
<g fill="none" stroke="#c8a030" stroke-width="1.5" stroke-linejoin="round" stroke-linecap="round">
<path d="M132 190.5 L98 199.8 L98.2 222 Q98.6 227 104 229.5 L108 231.5"/>
<path d="M100.3 203 L100.6 237.5 Q101 242 106 244.5 L126.5 255.5"/>
<path d="M122.5 237 L133 240.8 Q135.6 241.5 135.6 238 L135.6 228.5 Q135.6 226.5 138 225.5 L146 221"/>
<path d="M141.5 263.5 L169.5 278 Q172 279 172 276 L172 242 Q172 240 174.5 238.5 L206 224.5"/>
</g>
<ellipse cx="114.3" cy="232.9" rx="8.3" ry="10" fill="#8a6a1a" transform="translate(2.2,-0.6)"/>
<ellipse cx="114.3" cy="232.9" rx="8.3" ry="10" fill="url(#meter)" stroke="#d8b040" stroke-width="1.7"/>
<text x="114.0" y="236.7" font-size="10.5" font-weight="bold" text-anchor="middle" fill="#c0201a">V</text>
<ellipse cx="133.6" cy="259.6" rx="8.3" ry="10" fill="#8a6a1a" transform="translate(2.2,-0.6)"/>
<ellipse cx="133.6" cy="259.6" rx="8.3" ry="10" fill="url(#meter)" stroke="#d8b040" stroke-width="1.7"/>
<text x="133.3" y="263.4" font-size="10.5" font-weight="bold" text-anchor="middle" fill="#111">V</text>
<line x1="70.5" y1="218.9" x2="98" y2="229.8" stroke="#b5201c" stroke-width="2"/><polygon points="104.5,232.4 94.5,233 97.8,224.8" fill="#b5201c"/>
<line x1="91.7" y1="244" x2="115" y2="254.2" stroke="#111" stroke-width="2"/><polygon points="121.5,257 111.5,257.5 115,249.5" fill="#111"/>
<text x="52" y="214.9" font-size="13.5" font-weight="bold" fill="#c0201a">V<tspan font-size="9.5" dy="2.5">g</tspan></text>
<text x="68.6" y="240" font-size="13.5" font-weight="bold" fill="#111">V<tspan font-size="9.5" dy="2.5">ds</tspan></text>
<polygon points="75.4,150.5 102,163 102.6,204.5 76.9,193.5" fill="url(#blockL)"/>
<polygon points="75.4,150.5 97,144 125,155.5 102,163" fill="#cdcdcd"/>
<path d="M124.6 156.2 L103 162.8 L103.6 203.6" fill="none" stroke="#161616" stroke-width="3.3" stroke-linejoin="miter"/>
<polygon points="223.5,105.1 240,97.5 387.2,147.2 367.9,155.8" fill="url(#barTop)"/>
<polygon points="223.5,105.1 367.9,155.8 367.9,159.3 223.8,108.3" fill="#9c9c9c"/>
<path d="M368 158.3 L385.3 150.3 L385.6 190.5" fill="none" stroke="#161616" stroke-width="2.2"/>
<path d="M37 98.6 L82 90.2 Q108 88 108.6 116 L109.2 152 Q100 157 89.6 152 L88.8 124 Q88.5 108.5 78 110.3 L41.5 120 Z" fill="url(#pipeH)"/>
<path d="M88.8 124 L89.6 152 Q100 157 109.2 152 L108.6 116 Q108 100 96 96 Q90 110 88.8 124Z" fill="url(#pipeV)" opacity="0.85"/>
<ellipse cx="38.9" cy="109.4" rx="6.6" ry="11.5" transform="rotate(-12 38.9 109.4)" fill="#3fb0e6" stroke="#8fd8f4" stroke-width="1.6"/>
<ellipse cx="39.6" cy="109.4" rx="3.6" ry="8" transform="rotate(-12 39.6 109.4)" fill="#2a93d0"/>
<line x1="52" y1="102.5" x2="70" y2="99" stroke="#111" stroke-width="2.2"/><polygon points="76.5,97.6 68.2,103 66.6,95.2" fill="#111"/>
<path d="M234.5 105 L234.5 73 Q235 55 247.7 45 Q258 38.5 282.3 32 Q292.5 31.5 293 41 Q292.5 47 288 49.5 L270.8 54 Q256 59 255.2 74 L255 105 Q245 109.5 234.5 105Z" fill="url(#pipeV)"/>
<path d="M234.5 99.5 Q245 104.5 255 99.5 L255 105 Q245 109.8 234.5 105Z" fill="#4a8aa8" opacity="0.8"/>
<line x1="267" y1="46.2" x2="282" y2="41.8" stroke="#111" stroke-width="2.2"/><polygon points="288.2,40 280.3,46 278.2,38.2" fill="#111"/>
<use href="#prot" x="87.0" y="94.0" width="20" height="20" opacity="1.00"/>
<use href="#prot" x="91.0" y="140.0" width="16" height="16" opacity="1.00"/>
<use href="#prot" x="241.0" y="48.5" width="17" height="17" opacity="1.00"/>
<use href="#prot" x="163.5" y="150.5" width="21" height="21" opacity="0.40"/>
<use href="#prot" x="248.5" y="140.5" width="19" height="19" opacity="0.38"/>
<use href="#prot" x="216.5" y="163.5" width="19" height="19" opacity="0.38"/>
<use href="#prot" x="175.5" y="188.5" width="21" height="21" opacity="0.60"/>
<use href="#prot" x="231.0" y="220.0" width="20" height="20" opacity="0.62"/>
<use href="#prot" x="273.5" y="197.5" width="19" height="19" opacity="0.70"/>
<rect x="263" y="195.5" width="40" height="24.7" rx="3.5" fill="none" stroke="#b5261e" stroke-width="1.8" stroke-dasharray="5.5,3"/>
<path d="M302.5 189.5 L418.6 69.4" fill="none" stroke="#b5261e" stroke-width="1.5" stroke-dasharray="6,3.6"/>
<path d="M303.5 221 L418 253.8" fill="none" stroke="#b5261e" stroke-width="1.5" stroke-dasharray="6,3.6"/>
<text x="25.3" y="83.2" font-size="13.1">Inlet</text>
<text x="241.8" y="27.9" font-size="13.2">Outlet</text>
<text x="117.6" y="149.7" font-size="13">CaF<tspan font-size="9" dy="3">2</tspan></text>
<text x="365" y="220.2" font-size="13">SiO<tspan font-size="9" dy="3">2</tspan></text>
<text x="186" y="308.8" font-size="13.2">Infrared Light</text>
<text x="24.2" y="26" font-size="18.2" font-weight="bold">a</text>
</g>
<g id="inset" font-family="Liberation Sans, Arial, sans-serif">
<rect x="417.2" y="41.5" width="312.2" height="233.8" rx="39" fill="none" stroke="#b5261e" stroke-width="1.6" stroke-dasharray="6,3.7"/>
<rect x="461" y="246" width="257" height="5" fill="#555" filter="url(#b2)" opacity="0.7"/>
<g clip-path="url(#insClip)">
<rect x="460.4" y="52.7" width="257.6" height="19.6" fill="url(#caf)"/>
<rect x="460.4" y="71.8" width="257.6" height="154.5" fill="url(#water)"/>
<g fill="none" stroke="#fff" stroke-linecap="round" stroke-linejoin="round" filter="url(#b2)" opacity="0.62">
<path d="M462.2 129.5 Q483.7 125.9 494.4 129.5 Q505.2 133.1 514.1 137.6 Q523.1 142.1 527.6 151.9 Q532.1 161.8 540.1 168.9 Q548.2 176.1 560.7 179.7 Q573.3 183.3 580.4 181.5 L587.6 179.7" stroke-width="3.2"/>
<path d="M558.9 91.9 Q563.2 115.2 560.2 125.9 Q557.2 136.7 561.6 143.0 Q566.1 149.2 570.6 152.8 L575.1 156.4" stroke-width="2.4"/>
<path d="M576.9 84.7 Q598.4 100.8 610.9 99.1 Q623.5 97.3 632.4 91.9 L641.4 86.5" stroke-width="2.8"/>
<path d="M623.5 138.5 Q634.2 125.9 641.4 117.0 Q648.5 108.0 654.8 100.8 Q661.1 93.7 663.8 85.6 L666.5 77.5" stroke-width="2.2"/>
<path d="M627.0 142.1 Q648.5 158.2 659.3 170.7 Q670.1 183.3 679.0 189.6 L688.0 195.8" stroke-width="3.2"/>
<path d="M677.2 133.1 Q688.0 118.8 696.9 109.8 Q705.9 100.8 714.9 98.7 L723.8 96.5" stroke-width="2.4"/>
<path d="M684.4 129.5 Q681.5 147.4 684.7 155.5 Q688.0 163.6 696.9 173.4 Q705.9 183.3 713.1 186.0 L720.2 188.7" stroke-width="2.8"/>
<path d="M591.2 138.5 Q595.5 156.4 592.5 162.7 Q589.4 168.9 588.9 174.3 Q588.3 179.7 593.4 186.9 Q598.4 194.0 606.4 198.0 L614.5 201.9" stroke-width="2.2"/>
<path d="M474.7 170.7 Q501.6 161.8 514.1 167.2 Q526.7 172.5 533.9 173.4 L541.0 174.3" stroke-width="3.2"/>
<path d="M460.4 185.1 Q476.5 168.9 474.7 160.0 Q472.9 151.0 467.5 146.5 L462.2 142.1" stroke-width="2.4"/>
<path d="M455.0 106.2 Q476.5 118.8 489.1 115.2 Q501.6 111.6 507.0 113.4 L512.3 115.2" stroke-width="2.8"/>
<path d="M535.6 84.7 Q547.5 103.7 555.0 109.4 L562.5 115.2" stroke-width="2.2"/>
<path d="M641.4 168.9 Q634.2 186.9 638.2 194.9 L642.1 203.0" stroke-width="3.2"/>
<path d="M489.1 84.7 Q501.6 100.8 514.1 104.4 Q526.7 108.0 542.8 100.5 L558.9 93.0" stroke-width="2.4"/>
<path d="M523.1 142.1 Q508.8 152.8 505.2 157.3 L501.6 161.8" stroke-width="2.8"/>
<path d="M670.1 183.3 Q662.9 197.6 659.3 202.1 L655.7 206.6" stroke-width="2.2"/>
<path d="M705.9 100.8 Q702.3 86.5 705.0 81.1 L707.7 75.8" stroke-width="3.2"/>
<path d="M661.1 93.7 Q677.2 99.1 683.5 108.9 L689.8 118.8" stroke-width="2.4"/>
<path d="M573.3 183.3 Q562.5 197.6 564.3 203.0 L566.1 208.4" stroke-width="2.8"/>
<path d="M490.8 183.3 Q505.2 194.0 515.9 195.8 L526.7 197.6" stroke-width="2.2"/>
<path d="M705.9 136.7 Q714.9 151.0 719.3 152.8 L723.8 154.6" stroke-width="3.2"/>
<path d="M609.1 154.6 Q623.5 168.9 632.4 168.9 L641.4 168.9" stroke-width="2.4"/>
</g>
<g fill="none" stroke="#fff" stroke-linecap="round" stroke-linejoin="round" filter="url(#b1)" opacity="0.3">
<path d="M462.2 129.5 Q483.7 125.9 494.4 129.5 Q505.2 133.1 514.1 137.6 Q523.1 142.1 527.6 151.9 Q532.1 161.8 540.1 168.9 Q548.2 176.1 560.7 179.7 Q573.3 183.3 580.4 181.5 L587.6 179.7" stroke-width="1.1"/>
<path d="M558.9 91.9 Q563.2 115.2 560.2 125.9 Q557.2 136.7 561.6 143.0 Q566.1 149.2 570.6 152.8 L575.1 156.4" stroke-width="0.8"/>
<path d="M576.9 84.7 Q598.4 100.8 610.9 99.1 Q623.5 97.3 632.4 91.9 L641.4 86.5" stroke-width="1.0"/>
<path d="M623.5 138.5 Q634.2 125.9 641.4 117.0 Q648.5 108.0 654.8 100.8 Q661.1 93.7 663.8 85.6 L666.5 77.5" stroke-width="0.7"/>
<path d="M627.0 142.1 Q648.5 158.2 659.3 170.7 Q670.1 183.3 679.0 189.6 L688.0 195.8" stroke-width="1.1"/>
<path d="M677.2 133.1 Q688.0 118.8 696.9 109.8 Q705.9 100.8 714.9 98.7 L723.8 96.5" stroke-width="0.8"/>
<path d="M684.4 129.5 Q681.5 147.4 684.7 155.5 Q688.0 163.6 696.9 173.4 Q705.9 183.3 713.1 186.0 L720.2 188.7" stroke-width="1.0"/>
<path d="M591.2 138.5 Q595.5 156.4 592.5 162.7 Q589.4 168.9 588.9 174.3 Q588.3 179.7 593.4 186.9 Q598.4 194.0 606.4 198.0 L614.5 201.9" stroke-width="0.7"/>
<path d="M474.7 170.7 Q501.6 161.8 514.1 167.2 Q526.7 172.5 533.9 173.4 L541.0 174.3" stroke-width="1.1"/>
<path d="M460.4 185.1 Q476.5 168.9 474.7 160.0 Q472.9 151.0 467.5 146.5 L462.2 142.1" stroke-width="0.8"/>
<path d="M455.0 106.2 Q476.5 118.8 489.1 115.2 Q501.6 111.6 507.0 113.4 L512.3 115.2" stroke-width="1.0"/>
<path d="M535.6 84.7 Q547.5 103.7 555.0 109.4 L562.5 115.2" stroke-width="0.7"/>
<path d="M641.4 168.9 Q634.2 186.9 638.2 194.9 L642.1 203.0" stroke-width="1.1"/>
<path d="M489.1 84.7 Q501.6 100.8 514.1 104.4 Q526.7 108.0 542.8 100.5 L558.9 93.0" stroke-width="0.8"/>
<path d="M523.1 142.1 Q508.8 152.8 505.2 157.3 L501.6 161.8" stroke-width="1.0"/>
<path d="M670.1 183.3 Q662.9 197.6 659.3 202.1 L655.7 206.6" stroke-width="0.7"/>
<path d="M705.9 100.8 Q702.3 86.5 705.0 81.1 L707.7 75.8" stroke-width="1.1"/>
<path d="M661.1 93.7 Q677.2 99.1 683.5 108.9 L689.8 118.8" stroke-width="0.8"/>
<path d="M573.3 183.3 Q562.5 197.6 564.3 203.0 L566.1 208.4" stroke-width="1.0"/>
<path d="M490.8 183.3 Q505.2 194.0 515.9 195.8 L526.7 197.6" stroke-width="0.7"/>
<path d="M705.9 136.7 Q714.9 151.0 719.3 152.8 L723.8 154.6" stroke-width="1.1"/>
<path d="M609.1 154.6 Q623.5 168.9 632.4 168.9 L641.4 168.9" stroke-width="0.8"/>
</g>
<rect x="450" y="208" width="280" height="30" fill="#ee5048" opacity="0.68" filter="url(#b4)"/>
<ellipse cx="516" cy="229" rx="104" ry="47" fill="url(#glow)"/>
<ellipse cx="662" cy="229" rx="104" ry="47" fill="url(#glow)"/>
<rect x="460.4" y="225.9" width="257.6" height="23.2" fill="url(#sio)"/>
<ellipse cx="525" cy="225" rx="70" ry="12" fill="#b04080" opacity="0.5" filter="url(#b2)"/>
<ellipse cx="658" cy="225" rx="66" ry="12" fill="#b04080" opacity="0.5" filter="url(#b2)"/>
<rect x="460.4" y="246.5" width="257.6" height="2.6" fill="#3a4a6a" opacity="0.55"/>
<rect x="481.4" y="220.9" width="87.2" height="5" rx="2.4" fill="#6a1838"/>
<circle cx="486.4" cy="221.6" r="2.6" fill="#8a3050" opacity="0.8"/>
<circle cx="496.0" cy="221.6" r="2.6" fill="#8a3050" opacity="0.8"/>
<circle cx="505.7" cy="221.6" r="2.6" fill="#8a3050" opacity="0.8"/>
<circle cx="515.4" cy="221.6" r="2.6" fill="#8a3050" opacity="0.8"/>
<circle cx="525.0" cy="221.6" r="2.6" fill="#8a3050" opacity="0.8"/>
<circle cx="534.6" cy="221.6" r="2.6" fill="#8a3050" opacity="0.8"/>
<circle cx="544.3" cy="221.6" r="2.6" fill="#8a3050" opacity="0.8"/>
<circle cx="554.0" cy="221.6" r="2.6" fill="#8a3050" opacity="0.8"/>
<circle cx="563.6" cy="221.6" r="2.6" fill="#8a3050" opacity="0.8"/>
<rect x="614.5" y="220.9" width="86.9" height="5" rx="2.4" fill="#6a1838"/>
<circle cx="619.5" cy="221.6" r="2.6" fill="#8a3050" opacity="0.8"/>
<circle cx="629.1" cy="221.6" r="2.6" fill="#8a3050" opacity="0.8"/>
<circle cx="638.7" cy="221.6" r="2.6" fill="#8a3050" opacity="0.8"/>
<circle cx="648.3" cy="221.6" r="2.6" fill="#8a3050" opacity="0.8"/>
<circle cx="658.0" cy="221.6" r="2.6" fill="#8a3050" opacity="0.8"/>
<circle cx="667.6" cy="221.6" r="2.6" fill="#8a3050" opacity="0.8"/>
<circle cx="677.2" cy="221.6" r="2.6" fill="#8a3050" opacity="0.8"/>
<circle cx="686.8" cy="221.6" r="2.6" fill="#8a3050" opacity="0.8"/>
<circle cx="696.4" cy="221.6" r="2.6" fill="#8a3050" opacity="0.8"/>
<use href="#prot" x="502.1" y="109.4" width="25" height="25"/>
<use href="#prot" x="632.5" y="92.5" width="25" height="25"/>
<use href="#prot" x="583.5" y="156.5" width="25" height="25"/>
<use href="#prot" x="477.7" y="195.1" width="27" height="27"/>
<use href="#prot" x="514.0" y="195.6" width="26" height="26"/>
<use href="#prot" x="541.5" y="196.5" width="25" height="25"/>
<use href="#prot" x="610.8" y="195.1" width="27" height="27"/>
<use href="#prot" x="646.0" y="195.6" width="26" height="26"/>
<use href="#prot" x="675.5" y="196.5" width="25" height="25"/>
<polygon points="560,129.2 607,129.2 607,124.3 620.8,132.6 607,141 607,136.2 560,136.2" fill="url(#arrowT)"/>
</g>
<path d="M460.4 106 H443 Q438.3 106 438.3 111 V218.5 Q438.3 223.6 443.5 223.6 H460.4" fill="none" stroke="#b08a1c" stroke-width="2.6"/>
<path d="M460.4 106 H443 Q438.3 106 438.3 111 V218.5 Q438.3 223.6 443.5 223.6 H460.4" fill="none" stroke="#f0d050" stroke-width="1.1"/>
<circle cx="438.2" cy="165.5" r="15.6" fill="url(#vg)" stroke="#c9a02a" stroke-width="2.2"/>
<circle cx="438.2" cy="165.5" r="16.6" fill="none" stroke="#8a6a14" stroke-width="0.6"/>
<text x="431.8" y="170" font-size="12.5" font-weight="bold" fill="#c0201a">V<tspan font-size="8.5" dy="2.5">g</tspan></text>
<text x="464" y="88" font-size="13.1" fill="#111">Protein Solution</text>
<text x="675.7" y="65.8" font-size="13" fill="#111">CaF<tspan font-size="9" dy="3">2</tspan></text>
<text x="520.5" y="237" font-size="13.3" fill="#111">Graphene Nanoribbon</text>
<text x="684" y="244.3" font-size="13" fill="#111">SiO<tspan font-size="9" dy="3">2</tspan></text>
</g>
<g id="chartb" font-family="Liberation Sans, Arial, sans-serif">
<rect x="214" y="372.6" width="33.4" height="279.9" fill="#e2e1e1"/>
<polygon points="71.8,606.4 82.0,605.4 92.6,605.8 107.4,604.3 128.7,603.7 149.9,603.7 171.1,604.7 183.8,604.7 192.3,602.6 200.8,599.4 207.2,593.1 212.7,582.0 218.0,563.0 222.3,546.0 226.5,532.0 229.7,529.0 232.9,531.7 237.1,544.4 242.4,565.6 247.7,585.8 253.0,602.8 259.4,617.6 265.8,626.1 274.3,632.5 284.9,636.7 295.5,639.3 310.3,640.3 327.3,639.9 344.3,638.2 356.0,636.3 356.5,652.5 71.6,652.5" fill="url(#bfill)"/>
<polygon points="71.8,606.4 82.0,605.4 92.6,605.8 107.4,604.3 128.7,603.7 149.9,603.7 171.1,604.7 183.8,604.7 192.3,602.6 200.8,599.4 207.2,593.1 212.7,582.0 218.0,563.0 222.3,546.0 226.5,532.0 229.7,529.0 232.9,531.7 237.1,544.4 242.4,565.6 247.7,585.8 253.0,602.8 259.4,617.6 265.8,626.1 274.3,632.5 284.9,636.7 295.5,639.3 310.3,640.3 327.3,639.9 344.3,638.2 356.0,636.3 356.5,652.5 71.6,652.5" fill="url(#bpeak)" clip-path="url(#bandClip)"/>
<line x1="194.8" y1="372.9" x2="194.8" y2="652.5" stroke="#7fae5a" stroke-width="1.1" stroke-dasharray="4.2,2.6"/>
<line x1="233.3" y1="372.9" x2="233.3" y2="652.5" stroke="#5d3493" stroke-width="1.1" stroke-dasharray="4.2,2.6"/>
<polyline points="71.8,606.4 82.0,605.4 92.6,605.8 107.4,604.3 128.7,603.7 149.9,603.7 171.1,604.7 183.8,604.7 192.3,602.6 200.8,599.4 207.2,593.1 212.7,582.0 218.0,563.0 222.3,546.0 226.5,532.0 229.7,529.0 232.9,531.7 237.1,544.4 242.4,565.6 247.7,585.8 253.0,602.8 259.4,617.6 265.8,626.1 274.3,632.5 284.9,636.7 295.5,639.3 310.3,640.3 327.3,639.9 344.3,638.2 356.0,636.3" fill="none" stroke="#4f97d6" stroke-width="1.2" stroke-linejoin="round"/>
<polyline points="71.8,594.5 72.4,595.8 75.6,598.4 79.9,602.6 83.0,607.9 86.2,613.2 88.8,612.1 91.5,621.7 94.7,626.6 97.9,620.6 100.0,618.1 102.1,620.2 106.4,616.8 110.6,615.3 113.8,614.7 118.1,613.2 121.2,613.8 124.4,609.0 128.7,606.2 132.9,601.5 137.1,596.9 139.7,590.9 143.5,585.6 146.7,580.3 149.9,574.0 153.1,567.6 155.2,559.1 157.3,550.6 160.5,540.2 162.6,537.6 165.9,525.2 170.2,505.8 173.4,486.5 176.6,472.6 178.3,465.5 180.2,465.5 182.0,458.6 185.2,447.9 187.8,446.2 190.1,447.5 192.0,452.2 194.4,458.2 197.0,456.0 201.3,454.3 204.5,447.9 207.0,439.9 209.8,446.8 213.3,454.3 216.0,456.6 220.6,466.9 222.9,473.8 225.2,474.9 227.5,486.4 230.9,494.4 233.2,501.3 235.5,479.5 237.8,471.5 240.0,468.1 243.5,458.9 245.8,457.8 249.2,450.9 252.6,458.9 257.2,469.2 260.0,475.6 261.8,469.2 264.1,468.1 267.5,479.5 271.0,491.0 275.5,503.5 281.3,515.0 287.0,529.9 292.7,539.5 295.2,538.8 297.5,545.0 301.9,553.4 305.2,555.0 310.6,562.7 315.6,564.4 320.6,570.0 325.0,575.2 328.3,574.3 333.8,579.0 338.5,579.6 344.3,583.7 348.5,582.6 352.8,589.0 356.0,589.6" fill="none" stroke="#c03a20" stroke-width="1.2" stroke-linejoin="round"/>
<line x1="76.6" y1="371.9" x2="356.5" y2="371.9" stroke="#1a1a1a" stroke-width="1.5"/>
<line x1="76.6" y1="652.5" x2="356.5" y2="652.5" stroke="#1a1a1a" stroke-width="1.5"/>
<path d="M77.1 371.9 H71.6 V652.5 H77.1" fill="none" stroke="#cc4630" stroke-width="1.4"/>
<line x1="356.5" y1="371.9" x2="356.5" y2="653.2" stroke="#5b9fdd" stroke-width="1.1"/>
<text x="66.5" y="376.1" font-size="13.8" fill="#8b2c1e" text-anchor="end">1.5</text>
<line x1="71.6" y1="428.0" x2="77.1" y2="428.0" stroke="#cc4630" stroke-width="1.3"/>
<text x="66.5" y="432.2" font-size="13.8" fill="#8b2c1e" text-anchor="end">1.2</text>
<line x1="71.6" y1="484.1" x2="77.1" y2="484.1" stroke="#cc4630" stroke-width="1.3"/>
<text x="66.5" y="488.3" font-size="13.8" fill="#8b2c1e" text-anchor="end">0.9</text>
<line x1="71.6" y1="540.3" x2="77.1" y2="540.3" stroke="#cc4630" stroke-width="1.3"/>
<text x="66.5" y="544.5" font-size="13.8" fill="#8b2c1e" text-anchor="end">0.6</text>
<line x1="71.6" y1="596.4" x2="77.1" y2="596.4" stroke="#cc4630" stroke-width="1.3"/>
<text x="66.5" y="600.6" font-size="13.8" fill="#8b2c1e" text-anchor="end">0.3</text>
<text x="66.5" y="656.7" font-size="13.8" fill="#8b2c1e" text-anchor="end">0.0</text>
<line x1="85.8" y1="652.5" x2="85.8" y2="649.5" stroke="#1a1a1a" stroke-width="1.2"/>
<line x1="100.1" y1="652.5" x2="100.1" y2="649.5" stroke="#1a1a1a" stroke-width="1.2"/>
<line x1="114.3" y1="652.5" x2="114.3" y2="649.5" stroke="#1a1a1a" stroke-width="1.2"/>
<line x1="128.6" y1="652.5" x2="128.6" y2="649.5" stroke="#1a1a1a" stroke-width="1.2"/>
<line x1="142.8" y1="652.5" x2="142.8" y2="647.5" stroke="#1a1a1a" stroke-width="1.2"/>
<line x1="157.1" y1="652.5" x2="157.1" y2="649.5" stroke="#1a1a1a" stroke-width="1.2"/>
<line x1="171.3" y1="652.5" x2="171.3" y2="649.5" stroke="#1a1a1a" stroke-width="1.2"/>
<line x1="185.6" y1="652.5" x2="185.6" y2="649.5" stroke="#1a1a1a" stroke-width="1.2"/>
<line x1="199.8" y1="652.5" x2="199.8" y2="649.5" stroke="#1a1a1a" stroke-width="1.2"/>
<line x1="214.0" y1="652.5" x2="214.0" y2="647.5" stroke="#1a1a1a" stroke-width="1.2"/>
<line x1="228.3" y1="652.5" x2="228.3" y2="649.5" stroke="#1a1a1a" stroke-width="1.2"/>
<line x1="242.5" y1="652.5" x2="242.5" y2="649.5" stroke="#1a1a1a" stroke-width="1.2"/>
<line x1="256.8" y1="652.5" x2="256.8" y2="649.5" stroke="#1a1a1a" stroke-width="1.2"/>
<line x1="271.0" y1="652.5" x2="271.0" y2="649.5" stroke="#1a1a1a" stroke-width="1.2"/>
<line x1="285.3" y1="652.5" x2="285.3" y2="647.5" stroke="#1a1a1a" stroke-width="1.2"/>
<line x1="299.5" y1="652.5" x2="299.5" y2="649.5" stroke="#1a1a1a" stroke-width="1.2"/>
<line x1="313.8" y1="652.5" x2="313.8" y2="649.5" stroke="#1a1a1a" stroke-width="1.2"/>
<line x1="328.0" y1="652.5" x2="328.0" y2="649.5" stroke="#1a1a1a" stroke-width="1.2"/>
<line x1="342.3" y1="652.5" x2="342.3" y2="649.5" stroke="#1a1a1a" stroke-width="1.2"/>
<text x="71.1" y="669.4" font-size="13.6" fill="#111" text-anchor="middle">1200</text>
<text x="142.3" y="669.4" font-size="13.6" fill="#111" text-anchor="middle">1400</text>
<text x="213.5" y="669.4" font-size="13.6" fill="#111" text-anchor="middle">1600</text>
<text x="284.8" y="669.4" font-size="13.6" fill="#111" text-anchor="middle">1800</text>
<text x="356.0" y="669.4" font-size="13.6" fill="#111" text-anchor="middle">2000</text>
<line x1="353.0" y1="652.5" x2="356.5" y2="652.5" stroke="#5b9fdd" stroke-width="1"/>
<line x1="354.5" y1="605.7" x2="356.5" y2="605.7" stroke="#5b9fdd" stroke-width="1"/>
<line x1="354.5" y1="558.9" x2="356.5" y2="558.9" stroke="#5b9fdd" stroke-width="1"/>
<line x1="354.5" y1="512.1" x2="356.5" y2="512.1" stroke="#5b9fdd" stroke-width="1"/>
<line x1="353.0" y1="465.3" x2="356.5" y2="465.3" stroke="#5b9fdd" stroke-width="1"/>
<text x="361.8" y="469" font-size="13" fill="#5b9fdd" font-family="Liberation Serif, Times, serif">1</text>
<text x="360.3" y="655" font-size="13" fill="#5b9fdd" font-family="Liberation Serif, Times, serif">0</text>
<text transform="translate(39,510.5) rotate(-90)" font-size="13.9" fill="#111" text-anchor="middle">Extinction (%)</text>
<text transform="translate(376.6,511.3) rotate(-90)" font-size="14.9" fill="#5b9fdd" text-anchor="middle">Absorbance</text>
<text x="150.4" y="686.4" font-size="14.2" fill="#111">Wavenumber (cm<tspan font-size="9" dy="-5.5">-1</tspan><tspan dy="5.5">)</tspan></text>
<text x="24.4" y="373.2" font-size="18.2" font-weight="bold" fill="#111">b</text>
<text x="272.8" y="496.7" font-size="13.25" fill="#b5301c">With Plasmon</text>
<text x="254.1" y="610.2" font-size="13.28" fill="#4272b0">Without Plasmon</text>
<text x="149.6" y="385.6" font-size="13.8" fill="#7fae5a">v<tspan font-size="9.9" dy="3.2">Amide II</tspan></text>
<circle cx="147.3" cy="578.2" r="4" fill="none" stroke="#b5301c" stroke-width="0.9"/>
<line x1="143.3" y1="578.2" x2="129" y2="578.2" stroke="#b5301c" stroke-width="1"/>
<polygon points="122.3,578.2 131,574.3 129,578.2 131,582.1" fill="#a82a18"/>
<circle cx="248.4" cy="590.7" r="3.8" fill="none" stroke="#4272b0" stroke-width="0.9"/>
<line x1="252.2" y1="590.4" x2="266" y2="590.1" stroke="#4585c8" stroke-width="1"/>
<polygon points="272.6,590 264,586.2 266,590 264,593.9" fill="#4585c8"/>
<g font-size="12.2" text-anchor="middle">
<text x="101.5" y="463.2" fill="#5b34a0">O</text>
<text x="101.5" y="492.7" fill="#5b34a0">C</text>
<text x="122.9" y="511" fill="#5f9a3c">N</text>
<text x="147.2" y="492.3" fill="#5f9a3c">C</text>
<text x="122.9" y="538.8" fill="#5f9a3c">H</text>
</g>
<path d="M99.4 468.3V481.2M103 468.3V481.2" stroke="#5b34a0" stroke-width="1.1"/>
<path d="M97.2 494L85.8 503.3M104.9 494L116 502.6M142.7 481.2L132.6 472.1M152.6 481.2L164.8 472.6M151.9 494L163.3 502.2" stroke="#111" stroke-width="1.3"/>
<path d="M130.5 502L141.2 494M122.9 513.3V526.2" stroke="#7dba4e" stroke-width="1.1"/>
<path d="M111.8 466V479" stroke="#5b34a0" stroke-width="2.6"/>
<polygon points="111.8,460.4 116.3,469 107.3,469" fill="#5b34a0"/><polygon points="111.8,484.8 116.3,476 107.3,476" fill="#5b34a0"/>
<path d="M137.5 512.4L148.5 504.2" stroke="#7dba4e" stroke-width="2.2"/>
<polygon points="132.4,516.3 137.2,508.2 141.8,514.4" fill="#7dba4e"/><polygon points="153.6,500.4 148.9,508.5 144.2,502.3" fill="#7dba4e"/>
<path d="M112 548.5Q124 553.5 136 548.8" stroke="#7dba4e" stroke-width="2.2" fill="none"/>
<polygon points="107.6,545.8 116.3,546 112.6,552.6" fill="#7dba4e"/><polygon points="140.4,546.2 131.7,546.4 135.6,553" fill="#7dba4e"/>
</g>
<g id="chartc" font-family="Liberation Sans, Arial, sans-serif">
<g id="nf">
<rect x="615.9" y="574.7" width="102.2" height="66.7" fill="#1a0008"/>
<rect x="615.9" y="574.7" width="102.2" height="66.7" fill="url(#stripes)"/>
<rect x="620.3" y="574.7" width="7.6" height="66.7" fill="#fff" filter="url(#grain)" opacity="0.5"/>
<rect x="640.1" y="574.7" width="7.6" height="66.7" fill="#fff" filter="url(#grain)" opacity="0.5"/>
<rect x="660.0" y="574.7" width="7.6" height="66.7" fill="#fff" filter="url(#grain)" opacity="0.5"/>
<rect x="679.8" y="574.7" width="7.6" height="66.7" fill="#fff" filter="url(#grain)" opacity="0.5"/>
<rect x="699.6" y="574.7" width="7.6" height="66.7" fill="#fff" filter="url(#grain)" opacity="0.5"/>
<rect x="615.9" y="574.7" width="102.2" height="66.7" fill="none" stroke="#e8445e" stroke-width="1.5"/>
<polyline points="616.6,625.3 617.4,622.9 618.2,619.5 619.0,615.4 619.8,610.9 620.6,606.3 621.4,602.0 622.2,598.5 623.0,595.9 623.8,594.7 624.6,594.9 625.4,596.4 626.2,599.3 627.0,603.0 627.8,607.4 628.6,612.1 629.4,616.5 630.2,620.4 631.0,623.6 631.8,625.8 632.6,627.0 633.4,627.5 634.2,627.6 635.0,627.4 635.8,626.5 636.6,624.9 637.4,622.2 638.2,618.7 639.0,614.5 639.8,609.9 640.6,605.4 641.4,601.2 642.2,597.8 643.0,595.6 643.8,594.6 644.6,595.1 645.4,597.0 646.2,600.0 647.0,603.9 647.8,608.4 648.6,613.0 649.4,617.4 650.2,621.2 651.0,624.1 651.8,626.1 652.6,627.2 653.4,627.6 654.2,627.6 655.0,627.3 655.8,626.3 656.6,624.4 657.4,621.5 658.2,617.9 659.0,613.5 659.8,608.9 660.6,604.4 661.4,600.4 662.2,597.2 663.0,595.2 663.8,594.6 664.6,595.4 665.4,597.5 666.2,600.8 667.0,604.9 667.8,609.4 668.6,614.0 669.4,618.3 670.2,621.9 671.0,624.6 671.8,626.4 672.6,627.3 673.4,627.6 674.2,627.6 675.0,627.1 675.8,625.9 676.6,623.8 677.4,620.8 678.2,617.0 679.0,612.6 679.8,608.0 680.6,603.5 681.4,599.6 682.2,596.7 683.0,595.0 683.8,594.6 684.6,595.7 685.4,598.1 686.2,601.6 687.0,605.8 687.8,610.4 688.6,614.9 689.4,619.1 690.2,622.5 691.0,625.1 691.8,626.7 692.6,627.4 693.4,627.6 694.2,627.5 695.0,626.9 695.8,625.6 696.6,623.3 697.4,620.1 698.2,616.1 699.0,611.6 699.8,607.0 700.6,602.6 701.4,598.9 702.2,596.2 703.0,594.8 703.8,594.8 704.6,596.1 705.4,598.8 706.2,602.4 707.0,606.8 707.8,611.4 708.6,615.9 709.4,619.9 710.2,623.1 711.0,625.5 711.8,626.9 712.6,627.5 713.4,627.6 714.2,627.4" fill="none" stroke="#fff" stroke-width="1.15" stroke-linejoin="round"/>
<line x1="681" y1="634" x2="712" y2="634" stroke="#fff" stroke-width="1.6"/>
<text x="679.7" y="588.4" font-size="12.8" font-weight="bold" fill="#fff">s<tspan font-size="8.3" dy="2.7">4</tspan><tspan dy="-2.7">(w)</tspan></text>
</g>
<line x1="576.4" y1="372.9" x2="576.4" y2="652.5" stroke="#6d9fd8" stroke-width="1.1" stroke-dasharray="4.2,2.6"/>
<line x1="598.9" y1="372.9" x2="598.9" y2="652.5" stroke="#5d3493" stroke-width="1.1" stroke-dasharray="4.2,2.6"/>
<polyline points="443.2,408.2 455.0,414.0 466.8,423.6 478.6,436.1 491.5,445.1 502.2,454.8 510.8,466.6 521.5,487.0 532.3,498.3 543.0,497.3 553.7,495.1 576.3,507.3 580.0,505.2 587.5,499.4 598.9,483.7 609.0,473.0 619.7,465.5 631.5,462.3 642.2,458.6 653.0,446.2 663.7,433.7 674.4,430.9 685.2,433.9 695.9,438.2 706.6,442.1 717.3,444.0 725.9,451.5" fill="none" stroke="#333" stroke-width="1.2" stroke-linejoin="round"/>
<polyline points="443.2,464.8 455.0,465.5 466.8,468.7 478.6,477.3 489.4,491.2 499.4,499.8 510.5,513.3 531.5,518.0 543.4,542.4 554.0,563.7 564.7,567.6 576.6,575.6 587.2,584.4 598.4,601.3 609.8,563.7 620.4,530.5 631.0,515.9 642.2,508.4 652.5,505.6 663.7,494.5 674.4,481.6 685.2,469.4 695.9,473.6 706.6,469.1 718.4,458.0 725.9,454.3" fill="none" stroke="#c03a20" stroke-width="1.2" stroke-linejoin="round"/>
<rect x="442.9" y="371.9" width="283.4" height="280.6" fill="none" stroke="#1a1a1a" stroke-width="1.5"/>
<text x="435.4" y="376.1" font-size="13.8" fill="#111" text-anchor="end">1.6</text>
<line x1="442.9" y1="428.0" x2="448.4" y2="428.0" stroke="#1a1a1a" stroke-width="1.3"/>
<text x="435.4" y="432.2" font-size="13.8" fill="#111" text-anchor="end">1.5</text>
<line x1="442.9" y1="484.1" x2="448.4" y2="484.1" stroke="#1a1a1a" stroke-width="1.3"/>
<text x="435.4" y="488.3" font-size="13.8" fill="#111" text-anchor="end">1.4</text>
<line x1="442.9" y1="540.3" x2="448.4" y2="540.3" stroke="#1a1a1a" stroke-width="1.3"/>
<text x="435.4" y="544.5" font-size="13.8" fill="#111" text-anchor="end">1.3</text>
<line x1="442.9" y1="596.4" x2="448.4" y2="596.4" stroke="#1a1a1a" stroke-width="1.3"/>
<text x="435.4" y="600.6" font-size="13.8" fill="#111" text-anchor="end">1.2</text>
<text x="435.4" y="656.7" font-size="13.8" fill="#111" text-anchor="end">1.1</text>
<line x1="457.1" y1="652.5" x2="457.1" y2="649.5" stroke="#1a1a1a" stroke-width="1.2"/>
<line x1="471.2" y1="652.5" x2="471.2" y2="649.5" stroke="#1a1a1a" stroke-width="1.2"/>
<line x1="485.4" y1="652.5" x2="485.4" y2="649.5" stroke="#1a1a1a" stroke-width="1.2"/>
<line x1="499.6" y1="652.5" x2="499.6" y2="649.5" stroke="#1a1a1a" stroke-width="1.2"/>
<line x1="513.8" y1="652.5" x2="513.8" y2="647.5" stroke="#1a1a1a" stroke-width="1.2"/>
<line x1="527.9" y1="652.5" x2="527.9" y2="649.5" stroke="#1a1a1a" stroke-width="1.2"/>
<line x1="542.1" y1="652.5" x2="542.1" y2="649.5" stroke="#1a1a1a" stroke-width="1.2"/>
<line x1="556.3" y1="652.5" x2="556.3" y2="649.5" stroke="#1a1a1a" stroke-width="1.2"/>
<line x1="570.4" y1="652.5" x2="570.4" y2="649.5" stroke="#1a1a1a" stroke-width="1.2"/>
<line x1="584.6" y1="652.5" x2="584.6" y2="647.5" stroke="#1a1a1a" stroke-width="1.2"/>
<line x1="598.8" y1="652.5" x2="598.8" y2="649.5" stroke="#1a1a1a" stroke-width="1.2"/>
<line x1="612.9" y1="652.5" x2="612.9" y2="649.5" stroke="#1a1a1a" stroke-width="1.2"/>
<line x1="627.1" y1="652.5" x2="627.1" y2="649.5" stroke="#1a1a1a" stroke-width="1.2"/>
<line x1="641.3" y1="652.5" x2="641.3" y2="649.5" stroke="#1a1a1a" stroke-width="1.2"/>
<line x1="655.5" y1="652.5" x2="655.5" y2="647.5" stroke="#1a1a1a" stroke-width="1.2"/>
<line x1="669.6" y1="652.5" x2="669.6" y2="649.5" stroke="#1a1a1a" stroke-width="1.2"/>
<line x1="683.8" y1="652.5" x2="683.8" y2="649.5" stroke="#1a1a1a" stroke-width="1.2"/>
<line x1="698.0" y1="652.5" x2="698.0" y2="649.5" stroke="#1a1a1a" stroke-width="1.2"/>
<line x1="712.1" y1="652.5" x2="712.1" y2="649.5" stroke="#1a1a1a" stroke-width="1.2"/>
<text x="442.4" y="669.4" font-size="13.6" fill="#111" text-anchor="middle">1600</text>
<text x="513.2" y="669.4" font-size="13.6" fill="#111" text-anchor="middle">1625</text>
<text x="584.1" y="669.4" font-size="13.6" fill="#111" text-anchor="middle">1650</text>
<text x="654.9" y="669.4" font-size="13.6" fill="#111" text-anchor="middle">1675</text>
<text x="725.8" y="669.4" font-size="13.6" fill="#111" text-anchor="middle">1700</text>
<text transform="translate(405,510.5) rotate(-90)" font-size="13.9" fill="#111" text-anchor="middle">Extinction (%)</text>
<text x="521.5" y="686.4" font-size="14.2" fill="#111">Wavenumber (cm<tspan font-size="9" dy="-5.5">-1</tspan><tspan dy="5.5">)</tspan></text>
<text x="398" y="373.5" font-size="18.2" font-weight="bold" fill="#111">c</text>
<text x="445.4" y="453.7" font-size="13.35" fill="#333">Normal saline</text>
<text x="445.3" y="539.8" font-size="13.1" fill="#b5301c">Protein solution</text>
<text x="547.3" y="389" font-size="13.8" fill="#5f93cf">v<tspan font-size="10" dy="3.2">OH</tspan></text>
<text x="603.2" y="388.7" font-size="13.8" fill="#5d3493">v<tspan font-size="10" dy="3.2">Amide I</tspan></text>
</g>
</svg>
</body></html>
